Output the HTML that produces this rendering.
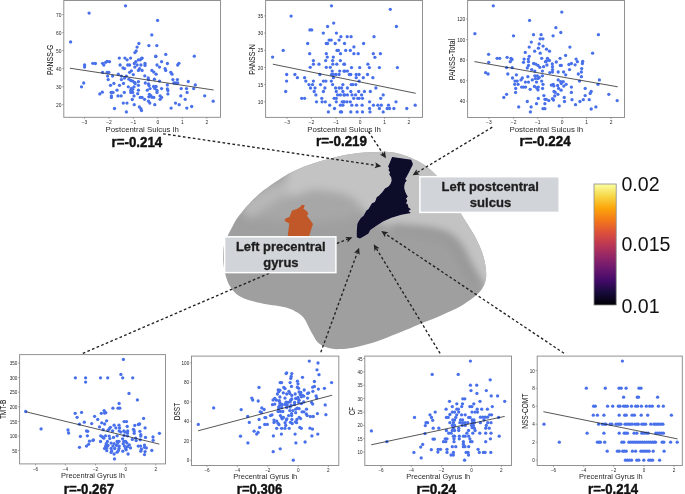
<!DOCTYPE html>
<html><head><meta charset="utf-8"><style>
html,body{margin:0;padding:0;background:#fff;width:685px;height:494px;overflow:hidden}
svg{display:block;will-change:transform;font-family:"Liberation Sans", sans-serif}
</style></head><body>
<svg width="685" height="494" viewBox="0 0 685 494">
<defs><clipPath id="bc"><path d="M223.2,255.0 C223.3,251.8 223.4,247.8 224.0,245.0 C224.6,242.2 225.6,240.6 226.5,238.5 C227.4,236.4 228.3,234.5 229.3,232.5 C230.3,230.5 231.3,228.7 232.5,226.5 C233.7,224.3 234.4,222.2 236.2,219.5 C238.0,216.8 240.5,213.8 243.3,210.5 C246.1,207.2 249.7,203.2 253.2,199.8 C256.7,196.4 260.2,193.1 264.5,189.8 C268.8,186.5 274.1,182.9 278.7,179.9 C283.3,176.9 287.1,174.5 292.0,172.1 C296.9,169.7 302.2,167.4 308.0,165.3 C313.8,163.2 320.1,161.4 326.8,159.6 C333.5,157.8 340.8,155.7 348.0,154.5 C355.2,153.3 362.2,152.5 370.0,152.2 C377.8,151.9 386.8,151.2 395.0,152.8 C403.2,154.4 412.6,158.3 419.4,162.0 C426.2,165.7 430.9,169.7 436.0,175.0 C441.1,180.3 446.0,187.8 450.0,194.0 C454.0,200.2 457.1,207.0 460.0,212.0 C462.9,217.0 464.9,220.0 467.4,224.0 C469.8,228.0 472.5,231.8 474.7,236.0 C476.9,240.2 479.1,244.8 480.8,249.0 C482.5,253.2 483.7,256.8 484.6,261.0 C485.5,265.2 486.1,270.4 486.2,274.0 C486.3,277.6 485.8,279.9 485.0,282.5 C484.2,285.1 483.1,287.2 481.5,289.5 C479.9,291.8 477.4,294.2 475.3,296.1 C473.2,298.0 471.1,299.3 468.6,301.0 C466.1,302.7 463.1,304.8 460.1,306.5 C457.1,308.2 454.0,309.6 450.4,311.3 C446.8,313.0 441.6,315.3 438.2,316.8 C434.8,318.3 433.2,318.8 430.0,320.1 C426.8,321.4 422.9,322.8 418.8,324.4 C414.8,326.0 410.1,328.2 405.7,330.0 C401.3,331.8 397.0,333.5 392.6,335.2 C388.2,336.9 383.8,338.8 379.4,340.4 C375.0,342.0 370.7,343.4 366.3,344.6 C361.9,345.8 357.5,347.1 353.1,347.8 C348.7,348.6 343.7,349.0 340.0,349.1 C336.3,349.2 334.0,349.2 331.0,348.6 C328.0,348.0 324.4,346.8 322.0,345.5 C319.6,344.2 318.4,343.3 316.6,341.0 C314.8,338.7 312.9,335.0 311.0,331.6 C309.1,328.2 307.1,323.2 305.5,320.5 C303.9,317.8 302.9,316.9 301.5,315.5 C300.1,314.1 299.2,313.5 297.4,312.4 C295.5,311.3 293.1,309.9 290.4,308.9 C287.7,307.9 284.6,307.2 281.1,306.5 C277.6,305.8 273.3,305.5 269.4,304.8 C265.5,304.1 261.2,303.2 257.7,302.4 C254.2,301.6 251.3,301.1 248.4,300.1 C245.5,299.1 242.5,298.0 240.2,296.6 C237.8,295.2 236.0,293.5 234.3,291.9 C232.7,290.2 231.5,288.5 230.3,286.7 C229.1,284.9 228.2,283.1 227.3,280.8 C226.4,278.5 225.7,275.8 225.0,273.0 C224.3,270.2 223.7,267.0 223.4,264.0 C223.1,261.0 223.1,258.2 223.2,255.0 Z"/></clipPath><filter id="bl4" x="-50%" y="-50%" width="200%" height="200%"><feGaussianBlur stdDeviation="5"/></filter><filter id="bl2" x="-50%" y="-50%" width="200%" height="200%"><feGaussianBlur stdDeviation="2"/></filter><filter id="bl3" x="-50%" y="-50%" width="200%" height="200%"><feGaussianBlur stdDeviation="4.5"/></filter><filter id="bl05" x="-20%" y="-20%" width="140%" height="140%"><feGaussianBlur stdDeviation="0.7"/></filter><linearGradient id="cb" x1="0" y1="0" x2="0" y2="1"><stop offset="0" stop-color="#fcffa4"/><stop offset="0.1" stop-color="#f6d746"/><stop offset="0.2" stop-color="#fca50a"/><stop offset="0.3" stop-color="#f37819"/><stop offset="0.4" stop-color="#dd513a"/><stop offset="0.5" stop-color="#bc3754"/><stop offset="0.6" stop-color="#932667"/><stop offset="0.7" stop-color="#6a176e"/><stop offset="0.8" stop-color="#420a68"/><stop offset="0.9" stop-color="#160b39"/><stop offset="1" stop-color="#000004"/></linearGradient></defs>
<path d="M223.2,255.0 C223.3,251.8 223.4,247.8 224.0,245.0 C224.6,242.2 225.6,240.6 226.5,238.5 C227.4,236.4 228.3,234.5 229.3,232.5 C230.3,230.5 231.3,228.7 232.5,226.5 C233.7,224.3 234.4,222.2 236.2,219.5 C238.0,216.8 240.5,213.8 243.3,210.5 C246.1,207.2 249.7,203.2 253.2,199.8 C256.7,196.4 260.2,193.1 264.5,189.8 C268.8,186.5 274.1,182.9 278.7,179.9 C283.3,176.9 287.1,174.5 292.0,172.1 C296.9,169.7 302.2,167.4 308.0,165.3 C313.8,163.2 320.1,161.4 326.8,159.6 C333.5,157.8 340.8,155.7 348.0,154.5 C355.2,153.3 362.2,152.5 370.0,152.2 C377.8,151.9 386.8,151.2 395.0,152.8 C403.2,154.4 412.6,158.3 419.4,162.0 C426.2,165.7 430.9,169.7 436.0,175.0 C441.1,180.3 446.0,187.8 450.0,194.0 C454.0,200.2 457.1,207.0 460.0,212.0 C462.9,217.0 464.9,220.0 467.4,224.0 C469.8,228.0 472.5,231.8 474.7,236.0 C476.9,240.2 479.1,244.8 480.8,249.0 C482.5,253.2 483.7,256.8 484.6,261.0 C485.5,265.2 486.1,270.4 486.2,274.0 C486.3,277.6 485.8,279.9 485.0,282.5 C484.2,285.1 483.1,287.2 481.5,289.5 C479.9,291.8 477.4,294.2 475.3,296.1 C473.2,298.0 471.1,299.3 468.6,301.0 C466.1,302.7 463.1,304.8 460.1,306.5 C457.1,308.2 454.0,309.6 450.4,311.3 C446.8,313.0 441.6,315.3 438.2,316.8 C434.8,318.3 433.2,318.8 430.0,320.1 C426.8,321.4 422.9,322.8 418.8,324.4 C414.8,326.0 410.1,328.2 405.7,330.0 C401.3,331.8 397.0,333.5 392.6,335.2 C388.2,336.9 383.8,338.8 379.4,340.4 C375.0,342.0 370.7,343.4 366.3,344.6 C361.9,345.8 357.5,347.1 353.1,347.8 C348.7,348.6 343.7,349.0 340.0,349.1 C336.3,349.2 334.0,349.2 331.0,348.6 C328.0,348.0 324.4,346.8 322.0,345.5 C319.6,344.2 318.4,343.3 316.6,341.0 C314.8,338.7 312.9,335.0 311.0,331.6 C309.1,328.2 307.1,323.2 305.5,320.5 C303.9,317.8 302.9,316.9 301.5,315.5 C300.1,314.1 299.2,313.5 297.4,312.4 C295.5,311.3 293.1,309.9 290.4,308.9 C287.7,307.9 284.6,307.2 281.1,306.5 C277.6,305.8 273.3,305.5 269.4,304.8 C265.5,304.1 261.2,303.2 257.7,302.4 C254.2,301.6 251.3,301.1 248.4,300.1 C245.5,299.1 242.5,298.0 240.2,296.6 C237.8,295.2 236.0,293.5 234.3,291.9 C232.7,290.2 231.5,288.5 230.3,286.7 C229.1,284.9 228.2,283.1 227.3,280.8 C226.4,278.5 225.7,275.8 225.0,273.0 C224.3,270.2 223.7,267.0 223.4,264.0 C223.1,261.0 223.1,258.2 223.2,255.0 Z" fill="#9f9f9f"/>
<g clip-path="url(#bc)">
<ellipse cx="305" cy="200" rx="70" ry="22" fill="#a7a7a7" filter="url(#bl4)"/>
<path d="M246,214 C262,198 282,188 306,185" fill="none" stroke="#b9b9b9" stroke-width="14" filter="url(#bl4)"/>
<path d="M292.0,160.0 C297.7,153.0 310.7,152.3 322.0,150.0 C333.3,147.7 347.0,146.7 360.0,146.0 C373.0,145.3 386.7,142.8 400.0,146.0 C413.3,149.2 428.3,156.0 440.0,165.0 C451.7,174.0 460.0,184.2 470.0,200.0 C480.0,215.8 495.0,243.3 500.0,260.0 C505.0,276.7 502.7,295.2 500.0,300.0 C497.3,304.8 488.0,293.2 484.0,289.0 C480.0,284.8 478.7,279.8 476.0,275.0 C473.3,270.2 470.7,264.8 468.0,260.0 C465.3,255.2 463.0,250.0 460.0,246.0 C457.0,242.0 455.0,238.5 450.0,236.0 C445.0,233.5 437.7,232.2 430.0,231.0 C422.3,229.8 411.5,230.0 404.0,229.0 C396.5,228.0 391.0,227.5 385.0,225.0 C379.0,222.5 373.2,218.3 368.0,214.0 C362.8,209.7 359.5,202.7 354.0,199.0 C348.5,195.3 342.3,193.5 335.0,192.0 C327.7,190.5 317.8,190.0 310.0,190.0 C302.2,190.0 291.0,197.0 288.0,192.0 C285.0,187.0 286.3,167.0 292.0,160.0 Z" fill="#c3c3c3" filter="url(#bl3)"/>
<path d="M392,229 C410,231 430,231 445,237 C455,243 460,252 464,262 C468,272 474,280 481,289" fill="none" stroke="#989898" stroke-width="10" filter="url(#bl3)"/>

</g>
<path d="M301.9,204.7 L304.9,205.2 L303.4,208.7 L306.9,211.2 L308.4,213.8 L306.9,215.8 L310.5,220.4 L313.0,223.9 L311.5,228.5 L309.0,236.5 L287.7,236.5 L289.2,223.4 L284.7,220.9 L285.2,218.8 L289.7,216.8 L291.8,210.7 L297.3,208.7 L300.4,206.7 Z" fill="#c0582a" filter="url(#bl05)"/>
<path d="M392.1,156.9 L411.2,159.7 L412.0,162.1 L412.8,163.4 L412.4,165.4 L410.8,168.6 L409.1,171.9 L407.5,175.1 L405.9,177.9 L405.1,179.1 L406.7,180.4 L405.1,182.4 L404.3,185.6 L404.2,188.6 L405.4,192.3 L406.6,194.7 L407.8,196.5 L406.0,198.4 L407.2,200.8 L406.0,203.2 L407.8,204.4 L408.4,207.5 L410.9,209.3 L408.4,211.1 L410.9,212.9 L401.2,214.8 L391.4,217.8 L382.9,221.4 L375.6,226.3 L370.2,230.0 L368.4,233.6 L363.5,236.6 L359.9,238.4 L356.8,237.2 L356.8,231.2 L357.4,223.9 L358.6,221.4 L361.1,217.8 L363.5,216.0 L366.5,210.5 L368.4,209.3 L372.0,203.2 L375.0,202.0 L376.9,197.1 L378.7,195.9 L382.3,192.3 L385.0,188.5 L388.5,186.5 L390.5,184.0 L391.7,180.8 L391.3,177.5 L389.3,174.3 L390.1,172.3 L388.5,170.2 L389.3,168.2 L388.1,166.6 L389.7,163.0 Z" fill="#08072b" filter="url(#bl05)"/>
<line x1="163.1" y1="133.8" x2="376.2" y2="165.4" stroke="#222" stroke-width="1.35" stroke-dasharray="2.7,2.3"/>
<path d="M381.3,166.2 L374.4,168.2 L376.3,165.5 L375.3,162.3 Z" fill="#222"/>
<line x1="368.5" y1="131.7" x2="383.1" y2="153.9" stroke="#222" stroke-width="1.35" stroke-dasharray="2.7,2.3"/>
<path d="M386.0,158.2 L379.9,154.4 L383.2,154.0 L384.9,151.1 Z" fill="#222"/>
<line x1="492.3" y1="127.2" x2="417.1" y2="172.5" stroke="#222" stroke-width="1.35" stroke-dasharray="2.7,2.3"/>
<path d="M412.6,175.2 L416.6,169.3 L416.9,172.6 L419.7,174.4 Z" fill="#222"/>
<line x1="82.8" y1="353.4" x2="270.2" y2="272.8" stroke="#222" stroke-width="1.35" stroke-dasharray="2.7,2.3"/>
<line x1="320.8" y1="352.3" x2="357.3" y2="252.7" stroke="#222" stroke-width="1.35" stroke-dasharray="2.7,2.3"/>
<path d="M359.1,247.8 L359.7,254.9 L357.4,252.6 L354.0,252.9 Z" fill="#222"/>
<line x1="440.1" y1="353.4" x2="376.4" y2="248.6" stroke="#222" stroke-width="1.35" stroke-dasharray="2.7,2.3"/>
<path d="M373.7,244.2 L379.6,248.2 L376.3,248.5 L374.5,251.3 Z" fill="#222"/>
<line x1="564.0" y1="353.3" x2="385.6" y2="234.0" stroke="#222" stroke-width="1.35" stroke-dasharray="2.7,2.3"/>
<path d="M381.3,231.1 L388.4,232.2 L385.5,233.9 L385.0,237.2 Z" fill="#222"/>
<line x1="336.8" y1="243.5" x2="347.6" y2="239.1" stroke="#222" stroke-width="1.35" stroke-dasharray="2.7,2.3"/>
<path d="M352.4,237.2 L347.5,242.4 L347.7,239.1 L345.2,236.9 Z" fill="#222"/>
<rect x="419.9" y="176.7" width="139.3" height="35.7" fill="#d1d4d8" stroke="#ffffff" stroke-width="1.5"/>
<text x="441.6" y="191.2" font-size="12.70" font-weight="bold" text-anchor="start" fill="#1e1e1e" textLength="97.2" lengthAdjust="spacingAndGlyphs" stroke="#1e1e1e" stroke-width="0.30" stroke-linejoin="round">Left postcentral</text>
<text x="469.8" y="207.0" font-size="12.70" font-weight="bold" text-anchor="start" fill="#1e1e1e" textLength="41.4" lengthAdjust="spacingAndGlyphs" stroke="#1e1e1e" stroke-width="0.30" stroke-linejoin="round">sulcus</text>
<rect x="224.6" y="236.8" width="111.3" height="35.8" fill="#d1d4d8" stroke="#ffffff" stroke-width="1.5"/>
<text x="235.9" y="250.9" font-size="12.70" font-weight="bold" text-anchor="start" fill="#1e1e1e" textLength="89.6" lengthAdjust="spacingAndGlyphs" stroke="#1e1e1e" stroke-width="0.30" stroke-linejoin="round">Left precentral</text>
<text x="263.2" y="267.3" font-size="12.70" font-weight="bold" text-anchor="start" fill="#1e1e1e" textLength="35.4" lengthAdjust="spacingAndGlyphs" stroke="#1e1e1e" stroke-width="0.30" stroke-linejoin="round">gyrus</text>
<rect x="594" y="184" width="22.2" height="121" fill="url(#cb)" stroke="#8a8a8a" stroke-width="0.8"/>
<text x="621.4" y="191.3" font-size="19.6" fill="#111">0.02</text>
<text x="621.4" y="251.3" font-size="19.6" fill="#111">0.015</text>
<text x="621.4" y="312.5" font-size="19.6" fill="#111">0.01</text>
<g fill="#4870ea"><circle cx="125.5" cy="5.8" r="1.65"/><circle cx="89.1" cy="13.1" r="1.65"/><circle cx="70.6" cy="41.9" r="1.65"/><circle cx="138.9" cy="43.5" r="1.65"/><circle cx="137.1" cy="47.1" r="1.65"/><circle cx="136.2" cy="51.0" r="1.65"/><circle cx="134.9" cy="52.6" r="1.65"/><circle cx="157.6" cy="20.4" r="1.65"/><circle cx="151.8" cy="34.9" r="1.65"/><circle cx="148.9" cy="45.6" r="1.65"/><circle cx="156.8" cy="45.6" r="1.65"/><circle cx="165.8" cy="54.4" r="1.65"/><circle cx="155.8" cy="56.2" r="1.65"/><circle cx="194.3" cy="56.2" r="1.65"/><circle cx="142.2" cy="58.1" r="1.65"/><circle cx="119.3" cy="58.1" r="1.65"/><circle cx="124.9" cy="58.1" r="1.65"/><circle cx="127.1" cy="59.8" r="1.65"/><circle cx="130.6" cy="58.1" r="1.65"/><circle cx="135.8" cy="61.7" r="1.65"/><circle cx="138.4" cy="59.8" r="1.65"/><circle cx="140.2" cy="59.8" r="1.65"/><circle cx="141.5" cy="58.5" r="1.65"/><circle cx="84.6" cy="65.0" r="1.65"/><circle cx="84.6" cy="67.1" r="1.65"/><circle cx="92.8" cy="63.3" r="1.65"/><circle cx="95.4" cy="63.5" r="1.65"/><circle cx="102.6" cy="63.3" r="1.65"/><circle cx="103.8" cy="65.0" r="1.65"/><circle cx="105.7" cy="62.3" r="1.65"/><circle cx="107.2" cy="61.3" r="1.65"/><circle cx="109.5" cy="61.7" r="1.65"/><circle cx="120.1" cy="65.0" r="1.65"/><circle cx="127.7" cy="65.0" r="1.65"/><circle cx="129.6" cy="65.0" r="1.65"/><circle cx="134.3" cy="63.5" r="1.65"/><circle cx="137.1" cy="65.0" r="1.65"/><circle cx="140.9" cy="65.0" r="1.65"/><circle cx="123.0" cy="67.9" r="1.65"/><circle cx="124.5" cy="68.6" r="1.65"/><circle cx="134.8" cy="67.1" r="1.65"/><circle cx="139.6" cy="68.6" r="1.65"/><circle cx="138.4" cy="70.4" r="1.65"/><circle cx="142.1" cy="70.4" r="1.65"/><circle cx="102.6" cy="72.3" r="1.65"/><circle cx="107.2" cy="72.3" r="1.65"/><circle cx="108.8" cy="72.3" r="1.65"/><circle cx="107.6" cy="76.1" r="1.65"/><circle cx="112.6" cy="76.1" r="1.65"/><circle cx="118.3" cy="74.2" r="1.65"/><circle cx="121.4" cy="76.1" r="1.65"/><circle cx="129.6" cy="72.3" r="1.65"/><circle cx="131.4" cy="70.8" r="1.65"/><circle cx="133.3" cy="74.6" r="1.65"/><circle cx="126.4" cy="76.1" r="1.65"/><circle cx="124.5" cy="78.0" r="1.65"/><circle cx="108.2" cy="79.6" r="1.65"/><circle cx="121.4" cy="79.6" r="1.65"/><circle cx="128.9" cy="79.2" r="1.65"/><circle cx="130.8" cy="80.5" r="1.65"/><circle cx="132.7" cy="81.1" r="1.65"/><circle cx="134.6" cy="82.4" r="1.65"/><circle cx="138.4" cy="81.7" r="1.65"/><circle cx="83.7" cy="83.0" r="1.65"/><circle cx="113.9" cy="83.4" r="1.65"/><circle cx="123.5" cy="83.4" r="1.65"/><circle cx="135.2" cy="83.6" r="1.65"/><circle cx="81.5" cy="86.8" r="1.65"/><circle cx="110.5" cy="85.3" r="1.65"/><circle cx="119.5" cy="85.3" r="1.65"/><circle cx="128.3" cy="86.8" r="1.65"/><circle cx="131.4" cy="88.4" r="1.65"/><circle cx="134.0" cy="86.8" r="1.65"/><circle cx="138.4" cy="85.3" r="1.65"/><circle cx="117.0" cy="90.2" r="1.65"/><circle cx="130.8" cy="90.2" r="1.65"/><circle cx="132.7" cy="89.3" r="1.65"/><circle cx="138.4" cy="90.2" r="1.65"/><circle cx="102.3" cy="92.2" r="1.65"/><circle cx="99.8" cy="93.9" r="1.65"/><circle cx="111.1" cy="92.4" r="1.65"/><circle cx="113.0" cy="92.4" r="1.65"/><circle cx="124.3" cy="92.4" r="1.65"/><circle cx="130.8" cy="92.4" r="1.65"/><circle cx="132.7" cy="92.4" r="1.65"/><circle cx="137.7" cy="93.7" r="1.65"/><circle cx="111.4" cy="95.9" r="1.65"/><circle cx="111.4" cy="97.4" r="1.65"/><circle cx="118.0" cy="95.9" r="1.65"/><circle cx="121.1" cy="95.9" r="1.65"/><circle cx="134.0" cy="95.9" r="1.65"/><circle cx="140.2" cy="97.4" r="1.65"/><circle cx="142.1" cy="97.4" r="1.65"/><circle cx="132.3" cy="99.5" r="1.65"/><circle cx="123.3" cy="103.1" r="1.65"/><circle cx="127.0" cy="103.1" r="1.65"/><circle cx="134.2" cy="104.7" r="1.65"/><circle cx="114.5" cy="108.5" r="1.65"/><circle cx="126.4" cy="111.9" r="1.65"/><circle cx="139.4" cy="106.9" r="1.65"/><circle cx="140.9" cy="108.7" r="1.65"/><circle cx="141.5" cy="110.6" r="1.65"/><circle cx="155.7" cy="56.6" r="1.65"/><circle cx="161.6" cy="61.7" r="1.65"/><circle cx="167.4" cy="63.5" r="1.65"/><circle cx="157.0" cy="65.0" r="1.65"/><circle cx="159.5" cy="67.1" r="1.65"/><circle cx="177.7" cy="65.0" r="1.65"/><circle cx="178.9" cy="63.3" r="1.65"/><circle cx="145.0" cy="63.5" r="1.65"/><circle cx="145.0" cy="65.4" r="1.65"/><circle cx="165.1" cy="68.6" r="1.65"/><circle cx="165.7" cy="70.4" r="1.65"/><circle cx="151.9" cy="70.4" r="1.65"/><circle cx="153.8" cy="72.1" r="1.65"/><circle cx="156.1" cy="74.2" r="1.65"/><circle cx="170.8" cy="72.3" r="1.65"/><circle cx="172.0" cy="74.2" r="1.65"/><circle cx="144.8" cy="75.8" r="1.65"/><circle cx="148.2" cy="78.0" r="1.65"/><circle cx="148.5" cy="79.6" r="1.65"/><circle cx="154.4" cy="79.2" r="1.65"/><circle cx="159.5" cy="81.1" r="1.65"/><circle cx="172.9" cy="79.6" r="1.65"/><circle cx="177.4" cy="79.6" r="1.65"/><circle cx="188.3" cy="81.5" r="1.65"/><circle cx="173.9" cy="83.0" r="1.65"/><circle cx="175.8" cy="83.0" r="1.65"/><circle cx="177.7" cy="83.0" r="1.65"/><circle cx="195.3" cy="84.9" r="1.65"/><circle cx="145.3" cy="83.0" r="1.65"/><circle cx="148.5" cy="83.9" r="1.65"/><circle cx="149.0" cy="85.5" r="1.65"/><circle cx="167.4" cy="84.9" r="1.65"/><circle cx="167.4" cy="88.9" r="1.65"/><circle cx="167.9" cy="90.5" r="1.65"/><circle cx="167.9" cy="93.9" r="1.65"/><circle cx="153.6" cy="86.5" r="1.65"/><circle cx="156.1" cy="86.5" r="1.65"/><circle cx="154.8" cy="88.4" r="1.65"/><circle cx="157.0" cy="90.5" r="1.65"/><circle cx="157.0" cy="92.4" r="1.65"/><circle cx="161.6" cy="88.6" r="1.65"/><circle cx="150.0" cy="88.6" r="1.65"/><circle cx="147.3" cy="90.2" r="1.65"/><circle cx="181.2" cy="88.6" r="1.65"/><circle cx="186.5" cy="88.6" r="1.65"/><circle cx="193.7" cy="88.6" r="1.65"/><circle cx="187.1" cy="92.4" r="1.65"/><circle cx="149.4" cy="94.3" r="1.65"/><circle cx="150.7" cy="95.6" r="1.65"/><circle cx="148.8" cy="96.8" r="1.65"/><circle cx="151.9" cy="97.2" r="1.65"/><circle cx="153.8" cy="97.4" r="1.65"/><circle cx="160.1" cy="95.9" r="1.65"/><circle cx="161.6" cy="97.4" r="1.65"/><circle cx="160.1" cy="99.3" r="1.65"/><circle cx="180.8" cy="95.9" r="1.65"/><circle cx="185.2" cy="99.3" r="1.65"/><circle cx="204.7" cy="95.8" r="1.65"/><circle cx="144.6" cy="99.3" r="1.65"/><circle cx="148.5" cy="101.2" r="1.65"/><circle cx="149.8" cy="103.1" r="1.65"/><circle cx="213.2" cy="101.2" r="1.65"/><circle cx="154.8" cy="104.7" r="1.65"/><circle cx="175.5" cy="103.1" r="1.65"/><circle cx="179.2" cy="104.7" r="1.65"/><circle cx="171.1" cy="108.1" r="1.65"/><circle cx="186.8" cy="108.1" r="1.65"/><circle cx="191.7" cy="106.5" r="1.65"/></g>
<line x1="69.8" y1="68.2" x2="213.6" y2="90.0" stroke="#1e1e1e" stroke-width="0.75"/>
<rect x="63.8" y="0.5" width="156.7" height="116.8" fill="none" stroke="#8c8c8c" stroke-width="0.95"/>
<line x1="84.5" y1="117.3" x2="84.5" y2="118.9" stroke="#777" stroke-width="0.6"/>
<text x="84.5" y="124.2" font-size="4.9" text-anchor="middle" fill="#262626">−3</text>
<line x1="109.0" y1="117.3" x2="109.0" y2="118.9" stroke="#777" stroke-width="0.6"/>
<text x="109.0" y="124.2" font-size="4.9" text-anchor="middle" fill="#262626">−2</text>
<line x1="133.4" y1="117.3" x2="133.4" y2="118.9" stroke="#777" stroke-width="0.6"/>
<text x="133.4" y="124.2" font-size="4.9" text-anchor="middle" fill="#262626">−1</text>
<line x1="157.8" y1="117.3" x2="157.8" y2="118.9" stroke="#777" stroke-width="0.6"/>
<text x="157.8" y="124.2" font-size="4.9" text-anchor="middle" fill="#262626">0</text>
<line x1="182.3" y1="117.3" x2="182.3" y2="118.9" stroke="#777" stroke-width="0.6"/>
<text x="182.3" y="124.2" font-size="4.9" text-anchor="middle" fill="#262626">1</text>
<line x1="206.8" y1="117.3" x2="206.8" y2="118.9" stroke="#777" stroke-width="0.6"/>
<text x="206.8" y="124.2" font-size="4.9" text-anchor="middle" fill="#262626">2</text>
<line x1="62.2" y1="104.7" x2="63.8" y2="104.7" stroke="#777" stroke-width="0.6"/>
<text x="61.5" y="106.8" font-size="4.9" text-anchor="end" fill="#262626">20</text>
<line x1="62.2" y1="86.7" x2="63.8" y2="86.7" stroke="#777" stroke-width="0.6"/>
<text x="61.5" y="88.8" font-size="4.9" text-anchor="end" fill="#262626">30</text>
<line x1="62.2" y1="68.6" x2="63.8" y2="68.6" stroke="#777" stroke-width="0.6"/>
<text x="61.5" y="70.7" font-size="4.9" text-anchor="end" fill="#262626">40</text>
<line x1="62.2" y1="50.6" x2="63.8" y2="50.6" stroke="#777" stroke-width="0.6"/>
<text x="61.5" y="52.7" font-size="4.9" text-anchor="end" fill="#262626">50</text>
<line x1="62.2" y1="32.6" x2="63.8" y2="32.6" stroke="#777" stroke-width="0.6"/>
<text x="61.5" y="34.7" font-size="4.9" text-anchor="end" fill="#262626">60</text>
<line x1="62.2" y1="14.6" x2="63.8" y2="14.6" stroke="#777" stroke-width="0.6"/>
<text x="61.5" y="16.7" font-size="4.9" text-anchor="end" fill="#262626">70</text>
<text transform="translate(50.5,59.8) rotate(-90)" font-size="8.2" text-anchor="middle" fill="#111" textLength="30.6" lengthAdjust="spacingAndGlyphs" dy="2.9">PANSS-G</text>
<text x="105.5" y="131.5" font-size="7.20" font-weight="normal" text-anchor="start" fill="#2a2a2a" textLength="73.3" lengthAdjust="spacingAndGlyphs">Postcentral Sulcus lh</text>
<text x="111.6" y="146.8" font-size="14.80" font-weight="bold" text-anchor="start" fill="#111" textLength="50.6" lengthAdjust="spacingAndGlyphs" stroke="#111" stroke-width="0.45" stroke-linejoin="round">r=-0.214</text>
<g fill="#4870ea"><circle cx="331.5" cy="5.8" r="1.65"/><circle cx="291.1" cy="16.1" r="1.65"/><circle cx="333.7" cy="23.1" r="1.65"/><circle cx="327.6" cy="26.5" r="1.65"/><circle cx="309.9" cy="29.9" r="1.65"/><circle cx="311.7" cy="29.9" r="1.65"/><circle cx="323.3" cy="33.1" r="1.65"/><circle cx="336.4" cy="33.1" r="1.65"/><circle cx="340.9" cy="36.7" r="1.65"/><circle cx="329.1" cy="40.1" r="1.65"/><circle cx="331.2" cy="40.1" r="1.65"/><circle cx="339.1" cy="40.1" r="1.65"/><circle cx="307.7" cy="43.5" r="1.65"/><circle cx="326.3" cy="43.5" r="1.65"/><circle cx="327.5" cy="43.5" r="1.65"/><circle cx="335.2" cy="43.5" r="1.65"/><circle cx="283.2" cy="50.4" r="1.65"/><circle cx="337.0" cy="50.4" r="1.65"/><circle cx="338.4" cy="50.4" r="1.65"/><circle cx="309.7" cy="53.7" r="1.65"/><circle cx="326.3" cy="53.7" r="1.65"/><circle cx="340.5" cy="53.7" r="1.65"/><circle cx="272.6" cy="57.1" r="1.65"/><circle cx="327.3" cy="57.1" r="1.65"/><circle cx="333.3" cy="57.1" r="1.65"/><circle cx="390.3" cy="9.3" r="1.65"/><circle cx="396.4" cy="26.5" r="1.65"/><circle cx="347.2" cy="36.7" r="1.65"/><circle cx="351.1" cy="36.7" r="1.65"/><circle cx="374.0" cy="36.7" r="1.65"/><circle cx="344.5" cy="43.5" r="1.65"/><circle cx="363.6" cy="43.5" r="1.65"/><circle cx="353.9" cy="46.9" r="1.65"/><circle cx="345.7" cy="50.4" r="1.65"/><circle cx="350.3" cy="50.4" r="1.65"/><circle cx="353.9" cy="53.7" r="1.65"/><circle cx="358.2" cy="53.7" r="1.65"/><circle cx="373.3" cy="53.7" r="1.65"/><circle cx="380.4" cy="53.7" r="1.65"/><circle cx="374.9" cy="57.3" r="1.65"/><circle cx="313.4" cy="60.6" r="1.65"/><circle cx="325.7" cy="60.6" r="1.65"/><circle cx="332.6" cy="60.6" r="1.65"/><circle cx="340.4" cy="60.6" r="1.65"/><circle cx="313.4" cy="64.2" r="1.65"/><circle cx="319.0" cy="64.2" r="1.65"/><circle cx="332.8" cy="64.2" r="1.65"/><circle cx="336.8" cy="64.2" r="1.65"/><circle cx="343.9" cy="64.2" r="1.65"/><circle cx="310.2" cy="67.3" r="1.65"/><circle cx="326.3" cy="67.3" r="1.65"/><circle cx="330.3" cy="67.3" r="1.65"/><circle cx="286.7" cy="74.5" r="1.65"/><circle cx="294.9" cy="74.5" r="1.65"/><circle cx="319.9" cy="74.5" r="1.65"/><circle cx="332.2" cy="71.1" r="1.65"/><circle cx="339.7" cy="71.1" r="1.65"/><circle cx="343.9" cy="71.1" r="1.65"/><circle cx="331.6" cy="74.5" r="1.65"/><circle cx="333.4" cy="74.5" r="1.65"/><circle cx="336.0" cy="74.5" r="1.65"/><circle cx="339.1" cy="74.5" r="1.65"/><circle cx="297.4" cy="77.7" r="1.65"/><circle cx="304.6" cy="77.7" r="1.65"/><circle cx="333.4" cy="77.7" r="1.65"/><circle cx="286.6" cy="81.1" r="1.65"/><circle cx="305.8" cy="81.1" r="1.65"/><circle cx="313.4" cy="81.1" r="1.65"/><circle cx="323.4" cy="81.1" r="1.65"/><circle cx="325.9" cy="81.1" r="1.65"/><circle cx="331.3" cy="81.1" r="1.65"/><circle cx="309.0" cy="84.6" r="1.65"/><circle cx="312.5" cy="84.6" r="1.65"/><circle cx="320.5" cy="84.6" r="1.65"/><circle cx="332.6" cy="84.6" r="1.65"/><circle cx="342.9" cy="84.6" r="1.65"/><circle cx="310.5" cy="88.0" r="1.65"/><circle cx="315.0" cy="88.0" r="1.65"/><circle cx="324.9" cy="88.0" r="1.65"/><circle cx="335.6" cy="88.0" r="1.65"/><circle cx="339.1" cy="88.0" r="1.65"/><circle cx="341.6" cy="88.0" r="1.65"/><circle cx="285.7" cy="91.5" r="1.65"/><circle cx="314.2" cy="91.5" r="1.65"/><circle cx="323.4" cy="91.5" r="1.65"/><circle cx="336.3" cy="91.5" r="1.65"/><circle cx="342.9" cy="91.5" r="1.65"/><circle cx="315.9" cy="94.9" r="1.65"/><circle cx="337.6" cy="94.9" r="1.65"/><circle cx="340.4" cy="94.9" r="1.65"/><circle cx="343.9" cy="94.9" r="1.65"/><circle cx="301.7" cy="98.3" r="1.65"/><circle cx="304.6" cy="98.3" r="1.65"/><circle cx="321.8" cy="98.3" r="1.65"/><circle cx="334.1" cy="98.3" r="1.65"/><circle cx="336.3" cy="98.3" r="1.65"/><circle cx="316.5" cy="101.8" r="1.65"/><circle cx="322.1" cy="101.8" r="1.65"/><circle cx="325.3" cy="101.8" r="1.65"/><circle cx="336.3" cy="101.8" r="1.65"/><circle cx="342.2" cy="101.8" r="1.65"/><circle cx="343.5" cy="101.8" r="1.65"/><circle cx="329.7" cy="105.2" r="1.65"/><circle cx="340.4" cy="105.2" r="1.65"/><circle cx="342.9" cy="105.2" r="1.65"/><circle cx="334.5" cy="108.5" r="1.65"/><circle cx="328.4" cy="111.9" r="1.65"/><circle cx="340.4" cy="111.9" r="1.65"/><circle cx="341.6" cy="111.9" r="1.65"/><circle cx="344.5" cy="64.2" r="1.65"/><circle cx="351.5" cy="67.6" r="1.65"/><circle cx="359.7" cy="67.6" r="1.65"/><circle cx="367.9" cy="64.2" r="1.65"/><circle cx="369.4" cy="67.6" r="1.65"/><circle cx="379.4" cy="67.6" r="1.65"/><circle cx="397.4" cy="67.6" r="1.65"/><circle cx="344.9" cy="71.1" r="1.65"/><circle cx="347.4" cy="71.1" r="1.65"/><circle cx="349.3" cy="74.5" r="1.65"/><circle cx="350.8" cy="74.5" r="1.65"/><circle cx="356.2" cy="74.5" r="1.65"/><circle cx="359.1" cy="74.5" r="1.65"/><circle cx="367.5" cy="74.5" r="1.65"/><circle cx="356.2" cy="77.7" r="1.65"/><circle cx="363.3" cy="77.7" r="1.65"/><circle cx="372.9" cy="77.7" r="1.65"/><circle cx="359.1" cy="81.1" r="1.65"/><circle cx="351.2" cy="84.6" r="1.65"/><circle cx="352.8" cy="84.6" r="1.65"/><circle cx="355.8" cy="84.6" r="1.65"/><circle cx="347.4" cy="88.0" r="1.65"/><circle cx="375.9" cy="88.0" r="1.65"/><circle cx="350.8" cy="91.5" r="1.65"/><circle cx="358.7" cy="91.5" r="1.65"/><circle cx="364.4" cy="91.5" r="1.65"/><circle cx="370.3" cy="91.5" r="1.65"/><circle cx="344.5" cy="94.9" r="1.65"/><circle cx="347.4" cy="94.9" r="1.65"/><circle cx="352.0" cy="94.9" r="1.65"/><circle cx="355.6" cy="94.9" r="1.65"/><circle cx="361.6" cy="94.9" r="1.65"/><circle cx="383.2" cy="94.9" r="1.65"/><circle cx="353.7" cy="98.3" r="1.65"/><circle cx="357.8" cy="98.3" r="1.65"/><circle cx="359.1" cy="98.3" r="1.65"/><circle cx="362.5" cy="98.3" r="1.65"/><circle cx="380.7" cy="98.3" r="1.65"/><circle cx="344.3" cy="101.8" r="1.65"/><circle cx="347.0" cy="101.8" r="1.65"/><circle cx="350.3" cy="101.8" r="1.65"/><circle cx="369.6" cy="101.8" r="1.65"/><circle cx="396.0" cy="101.8" r="1.65"/><circle cx="351.8" cy="105.2" r="1.65"/><circle cx="356.6" cy="105.2" r="1.65"/><circle cx="362.1" cy="105.2" r="1.65"/><circle cx="373.4" cy="105.2" r="1.65"/><circle cx="377.9" cy="105.2" r="1.65"/><circle cx="381.3" cy="105.2" r="1.65"/><circle cx="388.5" cy="105.2" r="1.65"/><circle cx="415.2" cy="105.2" r="1.65"/><circle cx="369.6" cy="108.5" r="1.65"/><circle cx="379.4" cy="108.5" r="1.65"/><circle cx="387.2" cy="108.5" r="1.65"/><circle cx="389.5" cy="108.5" r="1.65"/><circle cx="393.9" cy="108.5" r="1.65"/><circle cx="406.8" cy="108.5" r="1.65"/><circle cx="350.8" cy="111.9" r="1.65"/><circle cx="357.1" cy="111.9" r="1.65"/><circle cx="362.5" cy="111.9" r="1.65"/><circle cx="370.0" cy="111.9" r="1.65"/><circle cx="383.2" cy="111.9" r="1.65"/></g>
<line x1="272.8" y1="64.2" x2="415.7" y2="93.3" stroke="#1e1e1e" stroke-width="0.75"/>
<rect x="265.6" y="0.5" width="156.9" height="116.9" fill="none" stroke="#8c8c8c" stroke-width="0.95"/>
<line x1="287.1" y1="117.4" x2="287.1" y2="119.0" stroke="#777" stroke-width="0.6"/>
<text x="287.1" y="124.3" font-size="4.9" text-anchor="middle" fill="#262626">−3</text>
<line x1="311.4" y1="117.4" x2="311.4" y2="119.0" stroke="#777" stroke-width="0.6"/>
<text x="311.4" y="124.3" font-size="4.9" text-anchor="middle" fill="#262626">−2</text>
<line x1="336.0" y1="117.4" x2="336.0" y2="119.0" stroke="#777" stroke-width="0.6"/>
<text x="336.0" y="124.3" font-size="4.9" text-anchor="middle" fill="#262626">−1</text>
<line x1="360.2" y1="117.4" x2="360.2" y2="119.0" stroke="#777" stroke-width="0.6"/>
<text x="360.2" y="124.3" font-size="4.9" text-anchor="middle" fill="#262626">0</text>
<line x1="384.5" y1="117.4" x2="384.5" y2="119.0" stroke="#777" stroke-width="0.6"/>
<text x="384.5" y="124.3" font-size="4.9" text-anchor="middle" fill="#262626">1</text>
<line x1="408.9" y1="117.4" x2="408.9" y2="119.0" stroke="#777" stroke-width="0.6"/>
<text x="408.9" y="124.3" font-size="4.9" text-anchor="middle" fill="#262626">2</text>
<line x1="264.0" y1="101.8" x2="265.6" y2="101.8" stroke="#777" stroke-width="0.6"/>
<text x="263.3" y="103.9" font-size="4.9" text-anchor="end" fill="#262626">10</text>
<line x1="264.0" y1="84.6" x2="265.6" y2="84.6" stroke="#777" stroke-width="0.6"/>
<text x="263.3" y="86.7" font-size="4.9" text-anchor="end" fill="#262626">15</text>
<line x1="264.0" y1="67.5" x2="265.6" y2="67.5" stroke="#777" stroke-width="0.6"/>
<text x="263.3" y="69.6" font-size="4.9" text-anchor="end" fill="#262626">20</text>
<line x1="264.0" y1="50.3" x2="265.6" y2="50.3" stroke="#777" stroke-width="0.6"/>
<text x="263.3" y="52.4" font-size="4.9" text-anchor="end" fill="#262626">25</text>
<line x1="264.0" y1="33.1" x2="265.6" y2="33.1" stroke="#777" stroke-width="0.6"/>
<text x="263.3" y="35.2" font-size="4.9" text-anchor="end" fill="#262626">30</text>
<line x1="264.0" y1="15.9" x2="265.6" y2="15.9" stroke="#777" stroke-width="0.6"/>
<text x="263.3" y="18.0" font-size="4.9" text-anchor="end" fill="#262626">35</text>
<text transform="translate(252.2,59.5) rotate(-90)" font-size="8.2" text-anchor="middle" fill="#111" textLength="30.5" lengthAdjust="spacingAndGlyphs" dy="2.9">PANSS-N</text>
<text x="307.3" y="131.6" font-size="7.20" font-weight="normal" text-anchor="start" fill="#2a2a2a" textLength="73.5" lengthAdjust="spacingAndGlyphs">Postcentral Sulcus lh</text>
<text x="316.0" y="146.4" font-size="14.80" font-weight="bold" text-anchor="start" fill="#111" textLength="51.0" lengthAdjust="spacingAndGlyphs" stroke="#111" stroke-width="0.45" stroke-linejoin="round">r=-0.219</text>
<g fill="#4870ea"><circle cx="493.3" cy="5.8" r="1.65"/><circle cx="529.6" cy="20.4" r="1.65"/><circle cx="474.9" cy="33.7" r="1.65"/><circle cx="513.5" cy="35.8" r="1.65"/><circle cx="533.5" cy="34.7" r="1.65"/><circle cx="541.1" cy="34.7" r="1.65"/><circle cx="540.2" cy="38.8" r="1.65"/><circle cx="542.9" cy="38.8" r="1.65"/><circle cx="531.3" cy="42.1" r="1.65"/><circle cx="539.2" cy="43.9" r="1.65"/><circle cx="529.2" cy="47.1" r="1.65"/><circle cx="543.1" cy="46.1" r="1.65"/><circle cx="538.4" cy="48.2" r="1.65"/><circle cx="534.7" cy="51.2" r="1.65"/><circle cx="525.3" cy="52.4" r="1.65"/><circle cx="540.2" cy="53.2" r="1.65"/><circle cx="488.6" cy="54.3" r="1.65"/><circle cx="529.3" cy="56.3" r="1.65"/><circle cx="507.1" cy="57.3" r="1.65"/><circle cx="561.8" cy="12.1" r="1.65"/><circle cx="555.9" cy="27.7" r="1.65"/><circle cx="560.8" cy="32.5" r="1.65"/><circle cx="553.1" cy="35.8" r="1.65"/><circle cx="598.4" cy="34.7" r="1.65"/><circle cx="546.5" cy="49.2" r="1.65"/><circle cx="549.5" cy="51.2" r="1.65"/><circle cx="569.9" cy="47.1" r="1.65"/><circle cx="592.6" cy="53.2" r="1.65"/><circle cx="565.6" cy="55.4" r="1.65"/><circle cx="497.1" cy="58.3" r="1.65"/><circle cx="499.7" cy="58.3" r="1.65"/><circle cx="511.0" cy="58.3" r="1.65"/><circle cx="512.0" cy="59.5" r="1.65"/><circle cx="510.3" cy="61.7" r="1.65"/><circle cx="524.1" cy="59.1" r="1.65"/><circle cx="528.3" cy="59.1" r="1.65"/><circle cx="528.5" cy="61.7" r="1.65"/><circle cx="523.5" cy="62.3" r="1.65"/><circle cx="541.7" cy="58.3" r="1.65"/><circle cx="545.5" cy="61.7" r="1.65"/><circle cx="488.7" cy="62.3" r="1.65"/><circle cx="528.5" cy="65.4" r="1.65"/><circle cx="527.3" cy="67.9" r="1.65"/><circle cx="533.6" cy="63.5" r="1.65"/><circle cx="535.8" cy="64.2" r="1.65"/><circle cx="538.0" cy="65.4" r="1.65"/><circle cx="539.8" cy="67.3" r="1.65"/><circle cx="543.6" cy="66.7" r="1.65"/><circle cx="506.6" cy="67.6" r="1.65"/><circle cx="512.2" cy="67.6" r="1.65"/><circle cx="531.7" cy="69.6" r="1.65"/><circle cx="534.8" cy="71.1" r="1.65"/><circle cx="542.4" cy="71.1" r="1.65"/><circle cx="485.6" cy="72.7" r="1.65"/><circle cx="488.1" cy="74.0" r="1.65"/><circle cx="507.8" cy="74.0" r="1.65"/><circle cx="516.4" cy="74.8" r="1.65"/><circle cx="527.9" cy="76.7" r="1.65"/><circle cx="534.8" cy="75.8" r="1.65"/><circle cx="537.3" cy="75.8" r="1.65"/><circle cx="539.2" cy="77.4" r="1.65"/><circle cx="542.4" cy="75.8" r="1.65"/><circle cx="512.5" cy="78.0" r="1.65"/><circle cx="522.3" cy="78.0" r="1.65"/><circle cx="521.0" cy="79.9" r="1.65"/><circle cx="532.3" cy="79.9" r="1.65"/><circle cx="535.4" cy="78.6" r="1.65"/><circle cx="538.0" cy="78.6" r="1.65"/><circle cx="515.0" cy="81.1" r="1.65"/><circle cx="517.2" cy="81.1" r="1.65"/><circle cx="525.4" cy="82.1" r="1.65"/><circle cx="528.5" cy="82.1" r="1.65"/><circle cx="536.5" cy="82.1" r="1.65"/><circle cx="541.7" cy="81.1" r="1.65"/><circle cx="514.7" cy="84.3" r="1.65"/><circle cx="518.1" cy="84.3" r="1.65"/><circle cx="543.0" cy="84.3" r="1.65"/><circle cx="521.6" cy="87.1" r="1.65"/><circle cx="523.5" cy="87.1" r="1.65"/><circle cx="525.6" cy="87.1" r="1.65"/><circle cx="534.4" cy="86.4" r="1.65"/><circle cx="536.7" cy="88.0" r="1.65"/><circle cx="538.3" cy="87.1" r="1.65"/><circle cx="515.7" cy="88.4" r="1.65"/><circle cx="530.2" cy="89.3" r="1.65"/><circle cx="538.0" cy="89.9" r="1.65"/><circle cx="542.6" cy="88.4" r="1.65"/><circle cx="515.6" cy="92.4" r="1.65"/><circle cx="506.6" cy="94.3" r="1.65"/><circle cx="503.8" cy="97.4" r="1.65"/><circle cx="543.9" cy="95.6" r="1.65"/><circle cx="538.3" cy="98.4" r="1.65"/><circle cx="544.9" cy="99.3" r="1.65"/><circle cx="527.3" cy="101.5" r="1.65"/><circle cx="536.5" cy="103.7" r="1.65"/><circle cx="544.9" cy="103.7" r="1.65"/><circle cx="518.7" cy="106.9" r="1.65"/><circle cx="531.1" cy="106.9" r="1.65"/><circle cx="543.0" cy="108.7" r="1.65"/><circle cx="544.9" cy="108.7" r="1.65"/><circle cx="530.4" cy="111.9" r="1.65"/><circle cx="547.5" cy="58.3" r="1.65"/><circle cx="549.4" cy="60.4" r="1.65"/><circle cx="546.5" cy="61.0" r="1.65"/><circle cx="560.1" cy="58.3" r="1.65"/><circle cx="556.3" cy="62.0" r="1.65"/><circle cx="552.3" cy="63.8" r="1.65"/><circle cx="552.5" cy="66.7" r="1.65"/><circle cx="546.9" cy="65.0" r="1.65"/><circle cx="552.5" cy="69.6" r="1.65"/><circle cx="552.5" cy="72.1" r="1.65"/><circle cx="549.8" cy="72.6" r="1.65"/><circle cx="560.3" cy="65.4" r="1.65"/><circle cx="561.3" cy="65.4" r="1.65"/><circle cx="568.9" cy="64.5" r="1.65"/><circle cx="571.4" cy="63.5" r="1.65"/><circle cx="575.1" cy="64.8" r="1.65"/><circle cx="576.1" cy="59.1" r="1.65"/><circle cx="577.4" cy="61.7" r="1.65"/><circle cx="582.7" cy="61.3" r="1.65"/><circle cx="582.4" cy="63.5" r="1.65"/><circle cx="569.5" cy="69.6" r="1.65"/><circle cx="581.7" cy="68.6" r="1.65"/><circle cx="558.2" cy="72.0" r="1.65"/><circle cx="563.6" cy="72.0" r="1.65"/><circle cx="581.4" cy="72.0" r="1.65"/><circle cx="565.7" cy="74.8" r="1.65"/><circle cx="578.3" cy="74.0" r="1.65"/><circle cx="581.4" cy="76.7" r="1.65"/><circle cx="558.2" cy="79.9" r="1.65"/><circle cx="560.7" cy="81.7" r="1.65"/><circle cx="563.2" cy="81.7" r="1.65"/><circle cx="561.3" cy="83.6" r="1.65"/><circle cx="566.1" cy="84.3" r="1.65"/><circle cx="563.8" cy="86.1" r="1.65"/><circle cx="579.5" cy="81.1" r="1.65"/><circle cx="599.4" cy="79.9" r="1.65"/><circle cx="598.0" cy="84.3" r="1.65"/><circle cx="551.3" cy="85.1" r="1.65"/><circle cx="553.2" cy="84.3" r="1.65"/><circle cx="553.8" cy="85.9" r="1.65"/><circle cx="557.6" cy="85.5" r="1.65"/><circle cx="558.6" cy="88.4" r="1.65"/><circle cx="571.4" cy="87.1" r="1.65"/><circle cx="585.2" cy="88.4" r="1.65"/><circle cx="561.1" cy="90.2" r="1.65"/><circle cx="554.0" cy="91.4" r="1.65"/><circle cx="555.3" cy="92.4" r="1.65"/><circle cx="591.2" cy="91.4" r="1.65"/><circle cx="590.2" cy="93.4" r="1.65"/><circle cx="571.4" cy="92.4" r="1.65"/><circle cx="557.9" cy="94.3" r="1.65"/><circle cx="554.7" cy="95.9" r="1.65"/><circle cx="608.8" cy="94.3" r="1.65"/><circle cx="585.2" cy="95.6" r="1.65"/><circle cx="564.2" cy="97.4" r="1.65"/><circle cx="552.5" cy="98.7" r="1.65"/><circle cx="553.5" cy="100.0" r="1.65"/><circle cx="546.3" cy="99.3" r="1.65"/><circle cx="548.8" cy="100.6" r="1.65"/><circle cx="572.0" cy="99.7" r="1.65"/><circle cx="583.3" cy="99.7" r="1.65"/><circle cx="589.2" cy="99.7" r="1.65"/><circle cx="564.5" cy="101.5" r="1.65"/><circle cx="579.9" cy="101.5" r="1.65"/><circle cx="617.2" cy="100.6" r="1.65"/><circle cx="575.5" cy="104.7" r="1.65"/><circle cx="559.2" cy="105.9" r="1.65"/><circle cx="595.9" cy="106.9" r="1.65"/><circle cx="591.2" cy="109.0" r="1.65"/></g>
<line x1="474.4" y1="61.6" x2="617.7" y2="86.8" stroke="#1e1e1e" stroke-width="0.75"/>
<rect x="467.6" y="0.5" width="156.9" height="117.0" fill="none" stroke="#8c8c8c" stroke-width="0.95"/>
<line x1="488.9" y1="117.5" x2="488.9" y2="119.1" stroke="#777" stroke-width="0.6"/>
<text x="488.9" y="124.4" font-size="4.9" text-anchor="middle" fill="#262626">−3</text>
<line x1="513.6" y1="117.5" x2="513.6" y2="119.1" stroke="#777" stroke-width="0.6"/>
<text x="513.6" y="124.4" font-size="4.9" text-anchor="middle" fill="#262626">−2</text>
<line x1="537.8" y1="117.5" x2="537.8" y2="119.1" stroke="#777" stroke-width="0.6"/>
<text x="537.8" y="124.4" font-size="4.9" text-anchor="middle" fill="#262626">−1</text>
<line x1="562.2" y1="117.5" x2="562.2" y2="119.1" stroke="#777" stroke-width="0.6"/>
<text x="562.2" y="124.4" font-size="4.9" text-anchor="middle" fill="#262626">0</text>
<line x1="586.5" y1="117.5" x2="586.5" y2="119.1" stroke="#777" stroke-width="0.6"/>
<text x="586.5" y="124.4" font-size="4.9" text-anchor="middle" fill="#262626">1</text>
<line x1="611.0" y1="117.5" x2="611.0" y2="119.1" stroke="#777" stroke-width="0.6"/>
<text x="611.0" y="124.4" font-size="4.9" text-anchor="middle" fill="#262626">2</text>
<line x1="466.0" y1="101.3" x2="467.6" y2="101.3" stroke="#777" stroke-width="0.6"/>
<text x="465.3" y="103.4" font-size="4.9" text-anchor="end" fill="#262626">40</text>
<line x1="466.0" y1="80.7" x2="467.6" y2="80.7" stroke="#777" stroke-width="0.6"/>
<text x="465.3" y="82.8" font-size="4.9" text-anchor="end" fill="#262626">60</text>
<line x1="466.0" y1="60.1" x2="467.6" y2="60.1" stroke="#777" stroke-width="0.6"/>
<text x="465.3" y="62.2" font-size="4.9" text-anchor="end" fill="#262626">80</text>
<line x1="466.0" y1="39.7" x2="467.6" y2="39.7" stroke="#777" stroke-width="0.6"/>
<text x="465.3" y="41.8" font-size="4.9" text-anchor="end" fill="#262626">100</text>
<line x1="466.0" y1="19.1" x2="467.6" y2="19.1" stroke="#777" stroke-width="0.6"/>
<text x="465.3" y="21.2" font-size="4.9" text-anchor="end" fill="#262626">120</text>
<text transform="translate(451.7,59.5) rotate(-90)" font-size="8.2" text-anchor="middle" fill="#111" textLength="41.4" lengthAdjust="spacingAndGlyphs" dy="2.9">PANSS-Total</text>
<text x="509.4" y="131.6" font-size="7.20" font-weight="normal" text-anchor="start" fill="#2a2a2a" textLength="73.8" lengthAdjust="spacingAndGlyphs">Postcentral Sulcus lh</text>
<text x="519.6" y="146.4" font-size="14.80" font-weight="bold" text-anchor="start" fill="#111" textLength="51.0" lengthAdjust="spacingAndGlyphs" stroke="#111" stroke-width="0.45" stroke-linejoin="round">r=-0.224</text>
<g fill="#4870ea"><circle cx="75.4" cy="377.8" r="1.65"/><circle cx="85.6" cy="377.8" r="1.65"/><circle cx="85.6" cy="382.1" r="1.65"/><circle cx="123.4" cy="359.4" r="1.65"/><circle cx="120.9" cy="374.4" r="1.65"/><circle cx="100.5" cy="377.8" r="1.65"/><circle cx="107.7" cy="377.8" r="1.65"/><circle cx="122.7" cy="377.8" r="1.65"/><circle cx="132.7" cy="377.8" r="1.65"/><circle cx="129.0" cy="393.4" r="1.65"/><circle cx="137.4" cy="399.9" r="1.65"/><circle cx="119.1" cy="403.5" r="1.65"/><circle cx="25.7" cy="411.5" r="1.65"/><circle cx="75.2" cy="413.3" r="1.65"/><circle cx="81.6" cy="412.4" r="1.65"/><circle cx="77.1" cy="417.3" r="1.65"/><circle cx="84.3" cy="422.2" r="1.65"/><circle cx="79.4" cy="424.2" r="1.65"/><circle cx="91.7" cy="423.6" r="1.65"/><circle cx="41.1" cy="428.9" r="1.65"/><circle cx="68.0" cy="430.0" r="1.65"/><circle cx="68.6" cy="433.0" r="1.65"/><circle cx="86.5" cy="430.9" r="1.65"/><circle cx="87.7" cy="431.3" r="1.65"/><circle cx="80.4" cy="436.4" r="1.65"/><circle cx="87.4" cy="435.8" r="1.65"/><circle cx="89.5" cy="441.2" r="1.65"/><circle cx="88.6" cy="444.3" r="1.65"/><circle cx="86.5" cy="446.1" r="1.65"/><circle cx="79.5" cy="447.3" r="1.65"/><circle cx="92.9" cy="440.3" r="1.65"/><circle cx="112.9" cy="408.2" r="1.65"/><circle cx="118.0" cy="408.2" r="1.65"/><circle cx="119.8" cy="408.2" r="1.65"/><circle cx="104.1" cy="410.6" r="1.65"/><circle cx="101.3" cy="413.3" r="1.65"/><circle cx="104.6" cy="413.0" r="1.65"/><circle cx="105.8" cy="412.7" r="1.65"/><circle cx="94.6" cy="416.3" r="1.65"/><circle cx="97.7" cy="419.4" r="1.65"/><circle cx="143.6" cy="418.4" r="1.65"/><circle cx="106.6" cy="420.8" r="1.65"/><circle cx="124.1" cy="421.6" r="1.65"/><circle cx="126.5" cy="421.6" r="1.65"/><circle cx="101.7" cy="422.8" r="1.65"/><circle cx="104.6" cy="424.0" r="1.65"/><circle cx="114.1" cy="425.2" r="1.65"/><circle cx="119.0" cy="425.2" r="1.65"/><circle cx="127.2" cy="426.4" r="1.65"/><circle cx="134.8" cy="425.4" r="1.65"/><circle cx="138.4" cy="424.5" r="1.65"/><circle cx="139.6" cy="424.0" r="1.65"/><circle cx="99.5" cy="426.9" r="1.65"/><circle cx="145.1" cy="427.9" r="1.65"/><circle cx="110.4" cy="427.3" r="1.65"/><circle cx="109.2" cy="428.9" r="1.65"/><circle cx="115.9" cy="427.9" r="1.65"/><circle cx="119.6" cy="427.9" r="1.65"/><circle cx="103.2" cy="429.7" r="1.65"/><circle cx="108.0" cy="430.3" r="1.65"/><circle cx="112.6" cy="430.9" r="1.65"/><circle cx="119.2" cy="430.9" r="1.65"/><circle cx="123.8" cy="430.9" r="1.65"/><circle cx="127.7" cy="430.9" r="1.65"/><circle cx="133.5" cy="429.3" r="1.65"/><circle cx="134.2" cy="430.9" r="1.65"/><circle cx="139.9" cy="431.3" r="1.65"/><circle cx="120.8" cy="432.1" r="1.65"/><circle cx="125.0" cy="432.1" r="1.65"/><circle cx="127.5" cy="433.0" r="1.65"/><circle cx="134.2" cy="433.3" r="1.65"/><circle cx="140.8" cy="434.6" r="1.65"/><circle cx="100.7" cy="435.8" r="1.65"/><circle cx="102.5" cy="437.0" r="1.65"/><circle cx="105.6" cy="435.8" r="1.65"/><circle cx="109.2" cy="436.1" r="1.65"/><circle cx="117.1" cy="435.8" r="1.65"/><circle cx="124.1" cy="435.4" r="1.65"/><circle cx="127.5" cy="435.8" r="1.65"/><circle cx="140.8" cy="436.1" r="1.65"/><circle cx="145.5" cy="437.4" r="1.65"/><circle cx="153.0" cy="437.0" r="1.65"/><circle cx="113.5" cy="437.4" r="1.65"/><circle cx="103.8" cy="438.2" r="1.65"/><circle cx="109.8" cy="438.6" r="1.65"/><circle cx="122.6" cy="438.8" r="1.65"/><circle cx="132.3" cy="439.4" r="1.65"/><circle cx="135.7" cy="438.2" r="1.65"/><circle cx="136.2" cy="440.6" r="1.65"/><circle cx="140.2" cy="439.8" r="1.65"/><circle cx="153.2" cy="440.3" r="1.65"/><circle cx="159.4" cy="433.3" r="1.65"/><circle cx="93.4" cy="440.0" r="1.65"/><circle cx="100.5" cy="441.5" r="1.65"/><circle cx="107.4" cy="441.5" r="1.65"/><circle cx="117.1" cy="441.3" r="1.65"/><circle cx="119.0" cy="441.3" r="1.65"/><circle cx="123.8" cy="441.3" r="1.65"/><circle cx="125.6" cy="441.3" r="1.65"/><circle cx="106.2" cy="443.7" r="1.65"/><circle cx="111.1" cy="443.1" r="1.65"/><circle cx="114.1" cy="443.7" r="1.65"/><circle cx="117.7" cy="443.1" r="1.65"/><circle cx="123.2" cy="443.7" r="1.65"/><circle cx="126.9" cy="443.1" r="1.65"/><circle cx="129.3" cy="444.9" r="1.65"/><circle cx="138.2" cy="446.1" r="1.65"/><circle cx="140.6" cy="446.1" r="1.65"/><circle cx="144.5" cy="445.1" r="1.65"/><circle cx="144.5" cy="447.3" r="1.65"/><circle cx="146.3" cy="447.9" r="1.65"/><circle cx="105.6" cy="446.1" r="1.65"/><circle cx="108.0" cy="445.5" r="1.65"/><circle cx="112.9" cy="446.1" r="1.65"/><circle cx="116.5" cy="445.5" r="1.65"/><circle cx="119.2" cy="446.1" r="1.65"/><circle cx="124.4" cy="446.1" r="1.65"/><circle cx="127.5" cy="446.7" r="1.65"/><circle cx="130.5" cy="447.9" r="1.65"/><circle cx="104.6" cy="448.5" r="1.65"/><circle cx="106.8" cy="447.9" r="1.65"/><circle cx="111.1" cy="448.5" r="1.65"/><circle cx="114.7" cy="448.5" r="1.65"/><circle cx="119.0" cy="448.5" r="1.65"/><circle cx="125.6" cy="448.5" r="1.65"/><circle cx="141.4" cy="449.2" r="1.65"/><circle cx="106.8" cy="450.7" r="1.65"/><circle cx="111.7" cy="451.0" r="1.65"/><circle cx="118.3" cy="450.7" r="1.65"/><circle cx="122.8" cy="451.2" r="1.65"/><circle cx="126.2" cy="449.8" r="1.65"/><circle cx="140.8" cy="451.2" r="1.65"/><circle cx="145.1" cy="451.6" r="1.65"/><circle cx="151.8" cy="450.4" r="1.65"/><circle cx="111.1" cy="452.4" r="1.65"/><circle cx="117.1" cy="452.2" r="1.65"/><circle cx="114.1" cy="454.0" r="1.65"/><circle cx="128.1" cy="454.0" r="1.65"/><circle cx="144.5" cy="454.6" r="1.65"/><circle cx="114.5" cy="458.9" r="1.65"/></g>
<line x1="26.0" y1="411.8" x2="159.4" y2="444.1" stroke="#1e1e1e" stroke-width="0.75"/>
<rect x="19.6" y="354.6" width="145.9" height="109.3" fill="none" stroke="#8c8c8c" stroke-width="0.95"/>
<line x1="35.5" y1="463.9" x2="35.5" y2="465.5" stroke="#777" stroke-width="0.6"/>
<text x="35.5" y="470.6" font-size="4.6" text-anchor="middle" fill="#262626">−6</text>
<line x1="65.4" y1="463.9" x2="65.4" y2="465.5" stroke="#777" stroke-width="0.6"/>
<text x="65.4" y="470.6" font-size="4.6" text-anchor="middle" fill="#262626">−4</text>
<line x1="95.5" y1="463.9" x2="95.5" y2="465.5" stroke="#777" stroke-width="0.6"/>
<text x="95.5" y="470.6" font-size="4.6" text-anchor="middle" fill="#262626">−2</text>
<line x1="125.7" y1="463.9" x2="125.7" y2="465.5" stroke="#777" stroke-width="0.6"/>
<text x="125.7" y="470.6" font-size="4.6" text-anchor="middle" fill="#262626">0</text>
<line x1="155.7" y1="463.9" x2="155.7" y2="465.5" stroke="#777" stroke-width="0.6"/>
<text x="155.7" y="470.6" font-size="4.6" text-anchor="middle" fill="#262626">2</text>
<line x1="18.0" y1="450.5" x2="19.6" y2="450.5" stroke="#777" stroke-width="0.6"/>
<text x="17.3" y="452.5" font-size="4.6" text-anchor="end" fill="#262626">50</text>
<line x1="18.0" y1="436.1" x2="19.6" y2="436.1" stroke="#777" stroke-width="0.6"/>
<text x="17.3" y="438.1" font-size="4.6" text-anchor="end" fill="#262626">100</text>
<line x1="18.0" y1="421.5" x2="19.6" y2="421.5" stroke="#777" stroke-width="0.6"/>
<text x="17.3" y="423.5" font-size="4.6" text-anchor="end" fill="#262626">150</text>
<line x1="18.0" y1="406.8" x2="19.6" y2="406.8" stroke="#777" stroke-width="0.6"/>
<text x="17.3" y="408.8" font-size="4.6" text-anchor="end" fill="#262626">200</text>
<line x1="18.0" y1="392.2" x2="19.6" y2="392.2" stroke="#777" stroke-width="0.6"/>
<text x="17.3" y="394.2" font-size="4.6" text-anchor="end" fill="#262626">250</text>
<line x1="18.0" y1="377.6" x2="19.6" y2="377.6" stroke="#777" stroke-width="0.6"/>
<text x="17.3" y="379.6" font-size="4.6" text-anchor="end" fill="#262626">300</text>
<line x1="18.0" y1="363.2" x2="19.6" y2="363.2" stroke="#777" stroke-width="0.6"/>
<text x="17.3" y="365.2" font-size="4.6" text-anchor="end" fill="#262626">350</text>
<text transform="translate(3.5,409.4) rotate(-90)" font-size="8.2" text-anchor="middle" fill="#111" textLength="19.4" lengthAdjust="spacingAndGlyphs" dy="2.9">TMT-B</text>
<text x="61.0" y="477.5" font-size="7.20" font-weight="normal" text-anchor="start" fill="#2a2a2a" textLength="63.9" lengthAdjust="spacingAndGlyphs">Precentral Gyrus lh</text>
<text x="63.8" y="493.7" font-size="14.80" font-weight="bold" text-anchor="start" fill="#111" textLength="50.4" lengthAdjust="spacingAndGlyphs" stroke="#111" stroke-width="0.45" stroke-linejoin="round">r=-0.267</text>
<g fill="#4870ea"><circle cx="259.0" cy="387.4" r="1.65"/><circle cx="251.8" cy="398.1" r="1.65"/><circle cx="252.7" cy="400.0" r="1.65"/><circle cx="258.2" cy="401.0" r="1.65"/><circle cx="213.7" cy="407.9" r="1.65"/><circle cx="241.2" cy="409.6" r="1.65"/><circle cx="261.8" cy="407.9" r="1.65"/><circle cx="264.1" cy="409.5" r="1.65"/><circle cx="309.3" cy="361.1" r="1.65"/><circle cx="318.0" cy="363.0" r="1.65"/><circle cx="317.0" cy="369.8" r="1.65"/><circle cx="319.0" cy="374.7" r="1.65"/><circle cx="286.1" cy="373.6" r="1.65"/><circle cx="286.7" cy="372.8" r="1.65"/><circle cx="291.8" cy="373.6" r="1.65"/><circle cx="291.2" cy="376.4" r="1.65"/><circle cx="290.8" cy="378.4" r="1.65"/><circle cx="302.5" cy="377.3" r="1.65"/><circle cx="280.2" cy="382.6" r="1.65"/><circle cx="281.6" cy="382.6" r="1.65"/><circle cx="290.1" cy="382.6" r="1.65"/><circle cx="297.4" cy="381.2" r="1.65"/><circle cx="298.0" cy="383.8" r="1.65"/><circle cx="314.4" cy="381.5" r="1.65"/><circle cx="331.6" cy="382.6" r="1.65"/><circle cx="291.5" cy="386.4" r="1.65"/><circle cx="283.8" cy="387.5" r="1.65"/><circle cx="285.0" cy="388.6" r="1.65"/><circle cx="297.4" cy="387.2" r="1.65"/><circle cx="298.6" cy="388.3" r="1.65"/><circle cx="312.7" cy="387.2" r="1.65"/><circle cx="314.4" cy="386.4" r="1.65"/><circle cx="318.4" cy="389.1" r="1.65"/><circle cx="324.4" cy="388.3" r="1.65"/><circle cx="278.2" cy="390.0" r="1.65"/><circle cx="279.9" cy="390.2" r="1.65"/><circle cx="278.7" cy="391.7" r="1.65"/><circle cx="304.2" cy="390.0" r="1.65"/><circle cx="288.9" cy="391.3" r="1.65"/><circle cx="312.9" cy="391.3" r="1.65"/><circle cx="283.3" cy="392.8" r="1.65"/><circle cx="299.1" cy="392.0" r="1.65"/><circle cx="300.8" cy="392.5" r="1.65"/><circle cx="307.6" cy="393.4" r="1.65"/><circle cx="308.7" cy="392.8" r="1.65"/><circle cx="277.4" cy="394.0" r="1.65"/><circle cx="286.7" cy="394.0" r="1.65"/><circle cx="289.8" cy="393.4" r="1.65"/><circle cx="295.2" cy="394.0" r="1.65"/><circle cx="300.3" cy="394.5" r="1.65"/><circle cx="302.5" cy="395.4" r="1.65"/><circle cx="291.8" cy="395.4" r="1.65"/><circle cx="303.7" cy="396.2" r="1.65"/><circle cx="316.1" cy="395.9" r="1.65"/><circle cx="279.9" cy="397.0" r="1.65"/><circle cx="298.0" cy="397.4" r="1.65"/><circle cx="301.4" cy="396.8" r="1.65"/><circle cx="307.6" cy="398.1" r="1.65"/><circle cx="316.7" cy="397.9" r="1.65"/><circle cx="274.8" cy="398.5" r="1.65"/><circle cx="285.0" cy="398.1" r="1.65"/><circle cx="291.8" cy="399.0" r="1.65"/><circle cx="295.7" cy="398.5" r="1.65"/><circle cx="298.0" cy="399.0" r="1.65"/><circle cx="273.1" cy="400.0" r="1.65"/><circle cx="276.5" cy="400.2" r="1.65"/><circle cx="279.3" cy="400.7" r="1.65"/><circle cx="290.6" cy="400.2" r="1.65"/><circle cx="299.1" cy="400.2" r="1.65"/><circle cx="303.7" cy="401.9" r="1.65"/><circle cx="311.6" cy="402.4" r="1.65"/><circle cx="279.9" cy="402.7" r="1.65"/><circle cx="286.1" cy="402.2" r="1.65"/><circle cx="287.8" cy="402.4" r="1.65"/><circle cx="290.1" cy="401.9" r="1.65"/><circle cx="294.6" cy="402.4" r="1.65"/><circle cx="298.6" cy="402.4" r="1.65"/><circle cx="301.4" cy="403.6" r="1.65"/><circle cx="312.7" cy="404.1" r="1.65"/><circle cx="325.2" cy="404.9" r="1.65"/><circle cx="272.5" cy="404.7" r="1.65"/><circle cx="274.8" cy="404.1" r="1.65"/><circle cx="279.9" cy="404.9" r="1.65"/><circle cx="282.1" cy="404.5" r="1.65"/><circle cx="285.0" cy="404.5" r="1.65"/><circle cx="287.2" cy="404.9" r="1.65"/><circle cx="291.2" cy="405.3" r="1.65"/><circle cx="294.6" cy="404.5" r="1.65"/><circle cx="278.7" cy="407.0" r="1.65"/><circle cx="281.6" cy="407.5" r="1.65"/><circle cx="286.7" cy="407.5" r="1.65"/><circle cx="290.1" cy="407.0" r="1.65"/><circle cx="278.7" cy="408.7" r="1.65"/><circle cx="297.4" cy="408.1" r="1.65"/><circle cx="299.1" cy="408.7" r="1.65"/><circle cx="306.5" cy="409.2" r="1.65"/><circle cx="295.7" cy="409.2" r="1.65"/><circle cx="198.3" cy="424.4" r="1.65"/><circle cx="247.7" cy="416.5" r="1.65"/><circle cx="260.2" cy="411.8" r="1.65"/><circle cx="261.4" cy="412.5" r="1.65"/><circle cx="259.1" cy="419.5" r="1.65"/><circle cx="249.3" cy="422.4" r="1.65"/><circle cx="259.7" cy="427.4" r="1.65"/><circle cx="264.7" cy="424.4" r="1.65"/><circle cx="264.9" cy="417.6" r="1.65"/><circle cx="254.1" cy="431.2" r="1.65"/><circle cx="258.1" cy="432.4" r="1.65"/><circle cx="256.7" cy="434.1" r="1.65"/><circle cx="240.5" cy="436.2" r="1.65"/><circle cx="247.9" cy="442.9" r="1.65"/><circle cx="278.1" cy="411.5" r="1.65"/><circle cx="280.4" cy="411.5" r="1.65"/><circle cx="282.8" cy="411.5" r="1.65"/><circle cx="289.8" cy="410.6" r="1.65"/><circle cx="292.8" cy="410.6" r="1.65"/><circle cx="302.1" cy="411.8" r="1.65"/><circle cx="303.9" cy="411.8" r="1.65"/><circle cx="295.7" cy="412.7" r="1.65"/><circle cx="291.6" cy="413.6" r="1.65"/><circle cx="291.6" cy="415.6" r="1.65"/><circle cx="288.6" cy="415.6" r="1.65"/><circle cx="306.3" cy="413.9" r="1.65"/><circle cx="307.2" cy="415.6" r="1.65"/><circle cx="310.4" cy="416.5" r="1.65"/><circle cx="313.3" cy="416.5" r="1.65"/><circle cx="317.4" cy="413.6" r="1.65"/><circle cx="325.9" cy="414.7" r="1.65"/><circle cx="270.5" cy="415.6" r="1.65"/><circle cx="272.0" cy="414.8" r="1.65"/><circle cx="265.8" cy="417.6" r="1.65"/><circle cx="280.4" cy="415.6" r="1.65"/><circle cx="281.6" cy="417.4" r="1.65"/><circle cx="283.4" cy="417.4" r="1.65"/><circle cx="282.2" cy="418.8" r="1.65"/><circle cx="286.9" cy="418.8" r="1.65"/><circle cx="286.3" cy="420.0" r="1.65"/><circle cx="291.9" cy="419.5" r="1.65"/><circle cx="296.9" cy="419.5" r="1.65"/><circle cx="299.2" cy="417.4" r="1.65"/><circle cx="300.6" cy="418.6" r="1.65"/><circle cx="274.0" cy="420.1" r="1.65"/><circle cx="276.7" cy="421.1" r="1.65"/><circle cx="274.0" cy="422.4" r="1.65"/><circle cx="278.1" cy="423.3" r="1.65"/><circle cx="279.0" cy="424.7" r="1.65"/><circle cx="285.1" cy="422.7" r="1.65"/><circle cx="290.4" cy="422.3" r="1.65"/><circle cx="292.2" cy="423.5" r="1.65"/><circle cx="295.5" cy="421.8" r="1.65"/><circle cx="296.6" cy="422.7" r="1.65"/><circle cx="285.7" cy="425.4" r="1.65"/><circle cx="267.3" cy="424.4" r="1.65"/><circle cx="276.7" cy="428.3" r="1.65"/><circle cx="281.6" cy="428.3" r="1.65"/><circle cx="284.9" cy="428.3" r="1.65"/><circle cx="289.2" cy="428.3" r="1.65"/><circle cx="299.8" cy="427.4" r="1.65"/><circle cx="301.3" cy="428.3" r="1.65"/><circle cx="310.0" cy="428.2" r="1.65"/><circle cx="312.5" cy="429.1" r="1.65"/><circle cx="273.4" cy="435.9" r="1.65"/><circle cx="281.4" cy="434.1" r="1.65"/><circle cx="295.1" cy="434.1" r="1.65"/><circle cx="311.9" cy="435.9" r="1.65"/><circle cx="317.8" cy="434.1" r="1.65"/><circle cx="295.9" cy="442.9" r="1.65"/><circle cx="305.1" cy="442.0" r="1.65"/><circle cx="280.2" cy="448.8" r="1.65"/><circle cx="273.2" cy="451.7" r="1.65"/><circle cx="293.3" cy="460.2" r="1.65"/></g>
<line x1="198.1" y1="430.8" x2="332.2" y2="395.2" stroke="#1e1e1e" stroke-width="0.75"/>
<rect x="191.5" y="356.1" width="147.3" height="109.4" fill="none" stroke="#8c8c8c" stroke-width="0.95"/>
<line x1="207.0" y1="465.5" x2="207.0" y2="467.1" stroke="#777" stroke-width="0.6"/>
<text x="207.0" y="472.2" font-size="4.6" text-anchor="middle" fill="#262626">−6</text>
<line x1="237.4" y1="465.5" x2="237.4" y2="467.1" stroke="#777" stroke-width="0.6"/>
<text x="237.4" y="472.2" font-size="4.6" text-anchor="middle" fill="#262626">−4</text>
<line x1="267.8" y1="465.5" x2="267.8" y2="467.1" stroke="#777" stroke-width="0.6"/>
<text x="267.8" y="472.2" font-size="4.6" text-anchor="middle" fill="#262626">−2</text>
<line x1="298.2" y1="465.5" x2="298.2" y2="467.1" stroke="#777" stroke-width="0.6"/>
<text x="298.2" y="472.2" font-size="4.6" text-anchor="middle" fill="#262626">0</text>
<line x1="328.4" y1="465.5" x2="328.4" y2="467.1" stroke="#777" stroke-width="0.6"/>
<text x="328.4" y="472.2" font-size="4.6" text-anchor="middle" fill="#262626">2</text>
<line x1="189.9" y1="460.3" x2="191.5" y2="460.3" stroke="#777" stroke-width="0.6"/>
<text x="189.2" y="462.3" font-size="4.6" text-anchor="end" fill="#262626">0</text>
<line x1="189.9" y1="440.7" x2="191.5" y2="440.7" stroke="#777" stroke-width="0.6"/>
<text x="189.2" y="442.7" font-size="4.6" text-anchor="end" fill="#262626">20</text>
<line x1="189.9" y1="421.3" x2="191.5" y2="421.3" stroke="#777" stroke-width="0.6"/>
<text x="189.2" y="423.3" font-size="4.6" text-anchor="end" fill="#262626">40</text>
<line x1="189.9" y1="401.9" x2="191.5" y2="401.9" stroke="#777" stroke-width="0.6"/>
<text x="189.2" y="403.9" font-size="4.6" text-anchor="end" fill="#262626">60</text>
<line x1="189.9" y1="382.3" x2="191.5" y2="382.3" stroke="#777" stroke-width="0.6"/>
<text x="189.2" y="384.3" font-size="4.6" text-anchor="end" fill="#262626">80</text>
<line x1="189.9" y1="362.9" x2="191.5" y2="362.9" stroke="#777" stroke-width="0.6"/>
<text x="189.2" y="364.9" font-size="4.6" text-anchor="end" fill="#262626">100</text>
<text transform="translate(177.0,411.5) rotate(-90)" font-size="8.2" text-anchor="middle" fill="#111" textLength="17.5" lengthAdjust="spacingAndGlyphs" dy="2.9">DSST</text>
<text x="233.3" y="478.8" font-size="7.20" font-weight="normal" text-anchor="start" fill="#2a2a2a" textLength="63.9" lengthAdjust="spacingAndGlyphs">Precentral Gyrus lh</text>
<text x="236.8" y="493.7" font-size="14.80" font-weight="bold" text-anchor="start" fill="#111" textLength="45.4" lengthAdjust="spacingAndGlyphs" stroke="#111" stroke-width="0.45" stroke-linejoin="round">r=0.306</text>
<g fill="#4870ea"><circle cx="432.2" cy="374.4" r="1.65"/><circle cx="470.4" cy="361.1" r="1.65"/><circle cx="458.2" cy="374.4" r="1.65"/><circle cx="490.2" cy="379.8" r="1.65"/><circle cx="470.4" cy="385.2" r="1.65"/><circle cx="476.7" cy="385.2" r="1.65"/><circle cx="471.0" cy="390.6" r="1.65"/><circle cx="486.3" cy="390.6" r="1.65"/><circle cx="476.9" cy="393.4" r="1.65"/><circle cx="491.2" cy="395.9" r="1.65"/><circle cx="497.6" cy="395.9" r="1.65"/><circle cx="462.8" cy="398.8" r="1.65"/><circle cx="464.8" cy="398.8" r="1.65"/><circle cx="449.5" cy="401.3" r="1.65"/><circle cx="480.0" cy="401.3" r="1.65"/><circle cx="504.7" cy="401.3" r="1.65"/><circle cx="456.8" cy="403.8" r="1.65"/><circle cx="462.5" cy="403.8" r="1.65"/><circle cx="473.8" cy="403.8" r="1.65"/><circle cx="452.3" cy="406.6" r="1.65"/><circle cx="461.7" cy="406.6" r="1.65"/><circle cx="469.9" cy="406.6" r="1.65"/><circle cx="471.9" cy="406.6" r="1.65"/><circle cx="492.3" cy="406.6" r="1.65"/><circle cx="446.1" cy="409.2" r="1.65"/><circle cx="456.8" cy="409.2" r="1.65"/><circle cx="458.3" cy="409.2" r="1.65"/><circle cx="477.2" cy="409.2" r="1.65"/><circle cx="481.7" cy="409.2" r="1.65"/><circle cx="487.4" cy="409.2" r="1.65"/><circle cx="435.2" cy="412.1" r="1.65"/><circle cx="414.5" cy="417.4" r="1.65"/><circle cx="430.0" cy="414.8" r="1.65"/><circle cx="431.5" cy="417.4" r="1.65"/><circle cx="432.7" cy="420.3" r="1.65"/><circle cx="426.0" cy="422.7" r="1.65"/><circle cx="427.6" cy="422.7" r="1.65"/><circle cx="425.3" cy="425.6" r="1.65"/><circle cx="433.2" cy="428.2" r="1.65"/><circle cx="371.4" cy="430.9" r="1.65"/><circle cx="425.0" cy="433.6" r="1.65"/><circle cx="386.9" cy="441.7" r="1.65"/><circle cx="433.0" cy="439.1" r="1.65"/><circle cx="434.4" cy="439.1" r="1.65"/><circle cx="422.7" cy="444.4" r="1.65"/><circle cx="420.7" cy="447.1" r="1.65"/><circle cx="431.3" cy="449.7" r="1.65"/><circle cx="413.9" cy="452.4" r="1.65"/><circle cx="421.2" cy="457.9" r="1.65"/><circle cx="452.3" cy="412.1" r="1.65"/><circle cx="454.6" cy="412.1" r="1.65"/><circle cx="458.7" cy="412.1" r="1.65"/><circle cx="472.0" cy="412.1" r="1.65"/><circle cx="475.1" cy="412.1" r="1.65"/><circle cx="477.5" cy="412.1" r="1.65"/><circle cx="449.9" cy="414.5" r="1.65"/><circle cx="456.7" cy="414.8" r="1.65"/><circle cx="461.6" cy="414.8" r="1.65"/><circle cx="465.2" cy="414.8" r="1.65"/><circle cx="489.6" cy="414.8" r="1.65"/><circle cx="491.6" cy="414.8" r="1.65"/><circle cx="446.4" cy="417.4" r="1.65"/><circle cx="448.2" cy="417.4" r="1.65"/><circle cx="455.8" cy="417.4" r="1.65"/><circle cx="468.7" cy="417.4" r="1.65"/><circle cx="470.1" cy="417.4" r="1.65"/><circle cx="480.4" cy="417.2" r="1.65"/><circle cx="482.8" cy="417.2" r="1.65"/><circle cx="485.1" cy="417.2" r="1.65"/><circle cx="487.5" cy="417.2" r="1.65"/><circle cx="498.6" cy="417.4" r="1.65"/><circle cx="452.8" cy="420.0" r="1.65"/><circle cx="454.6" cy="420.0" r="1.65"/><circle cx="460.5" cy="420.0" r="1.65"/><circle cx="462.6" cy="420.0" r="1.65"/><circle cx="472.2" cy="420.0" r="1.65"/><circle cx="474.0" cy="420.0" r="1.65"/><circle cx="484.0" cy="420.0" r="1.65"/><circle cx="449.9" cy="422.7" r="1.65"/><circle cx="453.4" cy="422.7" r="1.65"/><circle cx="459.9" cy="422.7" r="1.65"/><circle cx="462.6" cy="422.7" r="1.65"/><circle cx="465.2" cy="422.7" r="1.65"/><circle cx="467.8" cy="422.7" r="1.65"/><circle cx="472.2" cy="422.7" r="1.65"/><circle cx="474.3" cy="422.7" r="1.65"/><circle cx="480.4" cy="422.7" r="1.65"/><circle cx="487.7" cy="422.7" r="1.65"/><circle cx="491.0" cy="422.7" r="1.65"/><circle cx="452.3" cy="425.4" r="1.65"/><circle cx="454.6" cy="425.4" r="1.65"/><circle cx="462.2" cy="425.4" r="1.65"/><circle cx="465.2" cy="425.4" r="1.65"/><circle cx="471.6" cy="425.4" r="1.65"/><circle cx="473.4" cy="425.4" r="1.65"/><circle cx="486.3" cy="425.4" r="1.65"/><circle cx="438.8" cy="428.2" r="1.65"/><circle cx="453.4" cy="428.2" r="1.65"/><circle cx="458.7" cy="428.2" r="1.65"/><circle cx="472.2" cy="427.7" r="1.65"/><circle cx="474.3" cy="428.2" r="1.65"/><circle cx="485.7" cy="428.2" r="1.65"/><circle cx="489.2" cy="428.2" r="1.65"/><circle cx="446.4" cy="430.5" r="1.65"/><circle cx="452.3" cy="430.5" r="1.65"/><circle cx="454.6" cy="430.5" r="1.65"/><circle cx="458.7" cy="430.5" r="1.65"/><circle cx="468.5" cy="430.5" r="1.65"/><circle cx="475.1" cy="430.5" r="1.65"/><circle cx="448.7" cy="433.2" r="1.65"/><circle cx="451.1" cy="433.2" r="1.65"/><circle cx="466.9" cy="433.2" r="1.65"/><circle cx="472.8" cy="433.2" r="1.65"/><circle cx="479.8" cy="433.2" r="1.65"/><circle cx="485.7" cy="433.2" r="1.65"/><circle cx="491.0" cy="433.2" r="1.65"/><circle cx="453.4" cy="436.2" r="1.65"/><circle cx="454.6" cy="436.2" r="1.65"/><circle cx="459.3" cy="436.2" r="1.65"/><circle cx="463.4" cy="436.2" r="1.65"/><circle cx="465.2" cy="436.2" r="1.65"/><circle cx="468.7" cy="436.2" r="1.65"/><circle cx="499.2" cy="436.2" r="1.65"/><circle cx="445.2" cy="438.8" r="1.65"/><circle cx="447.0" cy="438.8" r="1.65"/><circle cx="454.0" cy="438.8" r="1.65"/><circle cx="459.3" cy="438.8" r="1.65"/><circle cx="469.9" cy="438.8" r="1.65"/><circle cx="490.4" cy="438.8" r="1.65"/><circle cx="443.5" cy="441.7" r="1.65"/><circle cx="445.8" cy="441.7" r="1.65"/><circle cx="454.0" cy="441.7" r="1.65"/><circle cx="463.4" cy="441.7" r="1.65"/><circle cx="470.5" cy="441.7" r="1.65"/><circle cx="472.0" cy="441.7" r="1.65"/><circle cx="485.7" cy="441.7" r="1.65"/><circle cx="463.4" cy="444.2" r="1.65"/><circle cx="452.3" cy="446.7" r="1.65"/><circle cx="455.8" cy="446.7" r="1.65"/><circle cx="463.4" cy="446.7" r="1.65"/><circle cx="464.9" cy="446.7" r="1.65"/><circle cx="468.7" cy="446.7" r="1.65"/><circle cx="438.2" cy="449.3" r="1.65"/><circle cx="440.5" cy="449.3" r="1.65"/><circle cx="447.0" cy="449.3" r="1.65"/><circle cx="478.1" cy="449.3" r="1.65"/><circle cx="437.9" cy="452.0" r="1.65"/><circle cx="447.0" cy="452.4" r="1.65"/><circle cx="453.4" cy="452.4" r="1.65"/><circle cx="466.1" cy="452.4" r="1.65"/><circle cx="468.1" cy="452.4" r="1.65"/><circle cx="479.3" cy="452.4" r="1.65"/><circle cx="483.4" cy="452.4" r="1.65"/><circle cx="485.1" cy="452.4" r="1.65"/><circle cx="490.8" cy="452.4" r="1.65"/><circle cx="451.1" cy="455.0" r="1.65"/><circle cx="453.4" cy="455.0" r="1.65"/><circle cx="468.5" cy="455.0" r="1.65"/><circle cx="464.6" cy="460.2" r="1.65"/></g>
<line x1="371.2" y1="444.8" x2="504.7" y2="416.4" stroke="#1e1e1e" stroke-width="0.75"/>
<rect x="364.8" y="356.1" width="146.7" height="109.4" fill="none" stroke="#8c8c8c" stroke-width="0.95"/>
<line x1="381.0" y1="465.5" x2="381.0" y2="467.1" stroke="#777" stroke-width="0.6"/>
<text x="381.0" y="472.2" font-size="4.6" text-anchor="middle" fill="#262626">−6</text>
<line x1="411.3" y1="465.5" x2="411.3" y2="467.1" stroke="#777" stroke-width="0.6"/>
<text x="411.3" y="472.2" font-size="4.6" text-anchor="middle" fill="#262626">−4</text>
<line x1="441.6" y1="465.5" x2="441.6" y2="467.1" stroke="#777" stroke-width="0.6"/>
<text x="441.6" y="472.2" font-size="4.6" text-anchor="middle" fill="#262626">−2</text>
<line x1="471.5" y1="465.5" x2="471.5" y2="467.1" stroke="#777" stroke-width="0.6"/>
<text x="471.5" y="472.2" font-size="4.6" text-anchor="middle" fill="#262626">0</text>
<line x1="501.4" y1="465.5" x2="501.4" y2="467.1" stroke="#777" stroke-width="0.6"/>
<text x="501.4" y="472.2" font-size="4.6" text-anchor="middle" fill="#262626">2</text>
<line x1="363.2" y1="452.1" x2="364.8" y2="452.1" stroke="#777" stroke-width="0.6"/>
<text x="362.5" y="454.1" font-size="4.6" text-anchor="end" fill="#262626">10</text>
<line x1="363.2" y1="438.7" x2="364.8" y2="438.7" stroke="#777" stroke-width="0.6"/>
<text x="362.5" y="440.7" font-size="4.6" text-anchor="end" fill="#262626">15</text>
<line x1="363.2" y1="425.4" x2="364.8" y2="425.4" stroke="#777" stroke-width="0.6"/>
<text x="362.5" y="427.4" font-size="4.6" text-anchor="end" fill="#262626">20</text>
<line x1="363.2" y1="412.1" x2="364.8" y2="412.1" stroke="#777" stroke-width="0.6"/>
<text x="362.5" y="414.1" font-size="4.6" text-anchor="end" fill="#262626">25</text>
<line x1="363.2" y1="398.6" x2="364.8" y2="398.6" stroke="#777" stroke-width="0.6"/>
<text x="362.5" y="400.6" font-size="4.6" text-anchor="end" fill="#262626">30</text>
<line x1="363.2" y1="385.2" x2="364.8" y2="385.2" stroke="#777" stroke-width="0.6"/>
<text x="362.5" y="387.2" font-size="4.6" text-anchor="end" fill="#262626">35</text>
<line x1="363.2" y1="371.8" x2="364.8" y2="371.8" stroke="#777" stroke-width="0.6"/>
<text x="362.5" y="373.8" font-size="4.6" text-anchor="end" fill="#262626">40</text>
<line x1="363.2" y1="358.5" x2="364.8" y2="358.5" stroke="#777" stroke-width="0.6"/>
<text x="362.5" y="360.5" font-size="4.6" text-anchor="end" fill="#262626">45</text>
<text transform="translate(351.6,411.0) rotate(-90)" font-size="8.2" text-anchor="middle" fill="#111" textLength="8.0" lengthAdjust="spacingAndGlyphs" dy="2.9">CF</text>
<text x="406.3" y="478.8" font-size="7.20" font-weight="normal" text-anchor="start" fill="#2a2a2a" textLength="63.9" lengthAdjust="spacingAndGlyphs">Precentral Gyrus lh</text>
<text x="416.4" y="493.7" font-size="14.80" font-weight="bold" text-anchor="start" fill="#111" textLength="39.8" lengthAdjust="spacingAndGlyphs" stroke="#111" stroke-width="0.45" stroke-linejoin="round">r=0.24</text>
<g fill="#4870ea"><circle cx="622.4" cy="361.1" r="1.65"/><circle cx="586.3" cy="388.2" r="1.65"/><circle cx="605.3" cy="388.2" r="1.65"/><circle cx="619.1" cy="388.2" r="1.65"/><circle cx="621.2" cy="388.2" r="1.65"/><circle cx="626.1" cy="388.2" r="1.65"/><circle cx="639.0" cy="388.2" r="1.65"/><circle cx="641.0" cy="388.2" r="1.65"/><circle cx="623.6" cy="397.2" r="1.65"/><circle cx="637.3" cy="397.2" r="1.65"/><circle cx="638.5" cy="397.2" r="1.65"/><circle cx="657.6" cy="397.2" r="1.65"/><circle cx="593.6" cy="406.2" r="1.65"/><circle cx="595.3" cy="406.2" r="1.65"/><circle cx="607.6" cy="406.2" r="1.65"/><circle cx="612.7" cy="406.2" r="1.65"/><circle cx="618.4" cy="406.2" r="1.65"/><circle cx="620.0" cy="406.2" r="1.65"/><circle cx="623.6" cy="406.2" r="1.65"/><circle cx="625.4" cy="406.2" r="1.65"/><circle cx="627.3" cy="406.2" r="1.65"/><circle cx="631.5" cy="406.2" r="1.65"/><circle cx="635.7" cy="406.2" r="1.65"/><circle cx="637.6" cy="406.2" r="1.65"/><circle cx="641.4" cy="406.2" r="1.65"/><circle cx="646.3" cy="406.2" r="1.65"/><circle cx="649.7" cy="406.2" r="1.65"/><circle cx="652.3" cy="406.2" r="1.65"/><circle cx="658.4" cy="406.2" r="1.65"/><circle cx="663.3" cy="406.2" r="1.65"/><circle cx="593.3" cy="415.2" r="1.65"/><circle cx="597.4" cy="415.2" r="1.65"/><circle cx="603.9" cy="415.2" r="1.65"/><circle cx="619.2" cy="415.2" r="1.65"/><circle cx="624.7" cy="415.2" r="1.65"/><circle cx="626.2" cy="415.2" r="1.65"/><circle cx="632.1" cy="415.2" r="1.65"/><circle cx="634.4" cy="415.2" r="1.65"/><circle cx="641.2" cy="415.2" r="1.65"/><circle cx="647.7" cy="415.2" r="1.65"/><circle cx="671.4" cy="415.2" r="1.65"/><circle cx="544.0" cy="424.2" r="1.65"/><circle cx="598.6" cy="424.2" r="1.65"/><circle cx="602.5" cy="424.2" r="1.65"/><circle cx="604.8" cy="424.2" r="1.65"/><circle cx="606.0" cy="424.2" r="1.65"/><circle cx="610.1" cy="424.2" r="1.65"/><circle cx="611.8" cy="424.2" r="1.65"/><circle cx="616.0" cy="424.2" r="1.65"/><circle cx="618.0" cy="424.2" r="1.65"/><circle cx="619.5" cy="424.2" r="1.65"/><circle cx="620.9" cy="424.2" r="1.65"/><circle cx="625.0" cy="424.2" r="1.65"/><circle cx="626.8" cy="424.2" r="1.65"/><circle cx="628.5" cy="424.2" r="1.65"/><circle cx="630.3" cy="424.2" r="1.65"/><circle cx="632.1" cy="424.2" r="1.65"/><circle cx="634.8" cy="424.2" r="1.65"/><circle cx="636.8" cy="424.2" r="1.65"/><circle cx="638.3" cy="424.2" r="1.65"/><circle cx="641.8" cy="424.2" r="1.65"/><circle cx="643.8" cy="424.2" r="1.65"/><circle cx="645.6" cy="424.2" r="1.65"/><circle cx="650.8" cy="424.2" r="1.65"/><circle cx="653.8" cy="424.2" r="1.65"/><circle cx="655.5" cy="424.2" r="1.65"/><circle cx="657.3" cy="424.2" r="1.65"/><circle cx="659.1" cy="424.2" r="1.65"/><circle cx="661.1" cy="424.2" r="1.65"/><circle cx="662.9" cy="424.2" r="1.65"/><circle cx="587.1" cy="433.2" r="1.65"/><circle cx="603.9" cy="433.2" r="1.65"/><circle cx="619.2" cy="433.2" r="1.65"/><circle cx="624.2" cy="433.2" r="1.65"/><circle cx="625.8" cy="433.2" r="1.65"/><circle cx="627.4" cy="433.2" r="1.65"/><circle cx="634.1" cy="433.2" r="1.65"/><circle cx="636.8" cy="433.2" r="1.65"/><circle cx="641.8" cy="433.2" r="1.65"/><circle cx="643.8" cy="433.2" r="1.65"/><circle cx="646.1" cy="433.2" r="1.65"/><circle cx="648.1" cy="433.2" r="1.65"/><circle cx="655.9" cy="433.2" r="1.65"/><circle cx="657.9" cy="433.2" r="1.65"/><circle cx="659.6" cy="433.2" r="1.65"/><circle cx="661.4" cy="433.2" r="1.65"/><circle cx="663.4" cy="433.2" r="1.65"/><circle cx="559.3" cy="442.2" r="1.65"/><circle cx="597.4" cy="442.2" r="1.65"/><circle cx="599.2" cy="442.2" r="1.65"/><circle cx="600.4" cy="442.2" r="1.65"/><circle cx="604.7" cy="442.2" r="1.65"/><circle cx="621.9" cy="442.2" r="1.65"/><circle cx="623.8" cy="442.2" r="1.65"/><circle cx="628.9" cy="442.2" r="1.65"/><circle cx="630.9" cy="442.2" r="1.65"/><circle cx="632.9" cy="442.2" r="1.65"/><circle cx="634.8" cy="442.2" r="1.65"/><circle cx="636.8" cy="442.2" r="1.65"/><circle cx="638.8" cy="442.2" r="1.65"/><circle cx="640.6" cy="442.2" r="1.65"/><circle cx="642.6" cy="442.2" r="1.65"/><circle cx="644.6" cy="442.2" r="1.65"/><circle cx="646.7" cy="442.2" r="1.65"/><circle cx="648.8" cy="442.2" r="1.65"/><circle cx="650.8" cy="442.2" r="1.65"/><circle cx="652.6" cy="442.2" r="1.65"/><circle cx="654.4" cy="442.2" r="1.65"/><circle cx="655.5" cy="442.2" r="1.65"/><circle cx="662.2" cy="442.2" r="1.65"/><circle cx="663.8" cy="442.2" r="1.65"/><circle cx="670.6" cy="442.2" r="1.65"/><circle cx="677.2" cy="442.2" r="1.65"/><circle cx="607.2" cy="451.2" r="1.65"/><circle cx="617.4" cy="451.2" r="1.65"/><circle cx="619.2" cy="451.2" r="1.65"/><circle cx="622.7" cy="451.2" r="1.65"/><circle cx="624.4" cy="451.2" r="1.65"/><circle cx="626.2" cy="451.2" r="1.65"/><circle cx="632.4" cy="451.2" r="1.65"/><circle cx="635.6" cy="451.2" r="1.65"/><circle cx="640.9" cy="451.2" r="1.65"/><circle cx="643.0" cy="451.2" r="1.65"/><circle cx="645.0" cy="451.2" r="1.65"/><circle cx="647.0" cy="451.2" r="1.65"/><circle cx="649.1" cy="451.2" r="1.65"/><circle cx="653.2" cy="451.2" r="1.65"/><circle cx="664.1" cy="451.2" r="1.65"/><circle cx="625.4" cy="460.2" r="1.65"/><circle cx="627.4" cy="460.2" r="1.65"/><circle cx="629.4" cy="460.2" r="1.65"/><circle cx="631.5" cy="460.2" r="1.65"/><circle cx="636.8" cy="460.2" r="1.65"/><circle cx="638.8" cy="460.2" r="1.65"/><circle cx="643.8" cy="460.2" r="1.65"/><circle cx="648.8" cy="460.2" r="1.65"/><circle cx="650.8" cy="460.2" r="1.65"/><circle cx="652.6" cy="460.2" r="1.65"/><circle cx="659.6" cy="460.2" r="1.65"/></g>
<line x1="543.4" y1="411.7" x2="677.5" y2="438.9" stroke="#1e1e1e" stroke-width="0.75"/>
<rect x="537.2" y="356.1" width="145.1" height="109.4" fill="none" stroke="#8c8c8c" stroke-width="0.95"/>
<line x1="553.5" y1="465.5" x2="553.5" y2="467.1" stroke="#777" stroke-width="0.6"/>
<text x="553.5" y="472.2" font-size="4.6" text-anchor="middle" fill="#262626">−6</text>
<line x1="583.8" y1="465.5" x2="583.8" y2="467.1" stroke="#777" stroke-width="0.6"/>
<text x="583.8" y="472.2" font-size="4.6" text-anchor="middle" fill="#262626">−4</text>
<line x1="613.7" y1="465.5" x2="613.7" y2="467.1" stroke="#777" stroke-width="0.6"/>
<text x="613.7" y="472.2" font-size="4.6" text-anchor="middle" fill="#262626">−2</text>
<line x1="644.0" y1="465.5" x2="644.0" y2="467.1" stroke="#777" stroke-width="0.6"/>
<text x="644.0" y="472.2" font-size="4.6" text-anchor="middle" fill="#262626">0</text>
<line x1="674.0" y1="465.5" x2="674.0" y2="467.1" stroke="#777" stroke-width="0.6"/>
<text x="674.0" y="472.2" font-size="4.6" text-anchor="middle" fill="#262626">2</text>
<line x1="535.6" y1="460.2" x2="537.2" y2="460.2" stroke="#777" stroke-width="0.6"/>
<text x="534.9" y="462.2" font-size="4.6" text-anchor="end" fill="#262626">0</text>
<line x1="535.6" y1="442.2" x2="537.2" y2="442.2" stroke="#777" stroke-width="0.6"/>
<text x="534.9" y="444.2" font-size="4.6" text-anchor="end" fill="#262626">2</text>
<line x1="535.6" y1="424.2" x2="537.2" y2="424.2" stroke="#777" stroke-width="0.6"/>
<text x="534.9" y="426.2" font-size="4.6" text-anchor="end" fill="#262626">4</text>
<line x1="535.6" y1="406.2" x2="537.2" y2="406.2" stroke="#777" stroke-width="0.6"/>
<text x="534.9" y="408.2" font-size="4.6" text-anchor="end" fill="#262626">6</text>
<line x1="535.6" y1="388.3" x2="537.2" y2="388.3" stroke="#777" stroke-width="0.6"/>
<text x="534.9" y="390.3" font-size="4.6" text-anchor="end" fill="#262626">8</text>
<line x1="535.6" y1="370.5" x2="537.2" y2="370.5" stroke="#777" stroke-width="0.6"/>
<text x="534.9" y="372.5" font-size="4.6" text-anchor="end" fill="#262626">10</text>
<text transform="translate(525.3,411.2) rotate(-90)" font-size="8.2" text-anchor="middle" fill="#111" textLength="35.2" lengthAdjust="spacingAndGlyphs" dy="2.9">NSS-COMT</text>
<text x="579.0" y="478.8" font-size="7.20" font-weight="normal" text-anchor="start" fill="#2a2a2a" textLength="63.7" lengthAdjust="spacingAndGlyphs">Precentral Gyrus lh</text>
<text x="588.0" y="493.7" font-size="14.80" font-weight="bold" text-anchor="start" fill="#111" textLength="50.2" lengthAdjust="spacingAndGlyphs" stroke="#111" stroke-width="0.45" stroke-linejoin="round">r=-0.214</text>
</svg>
</body></html>
